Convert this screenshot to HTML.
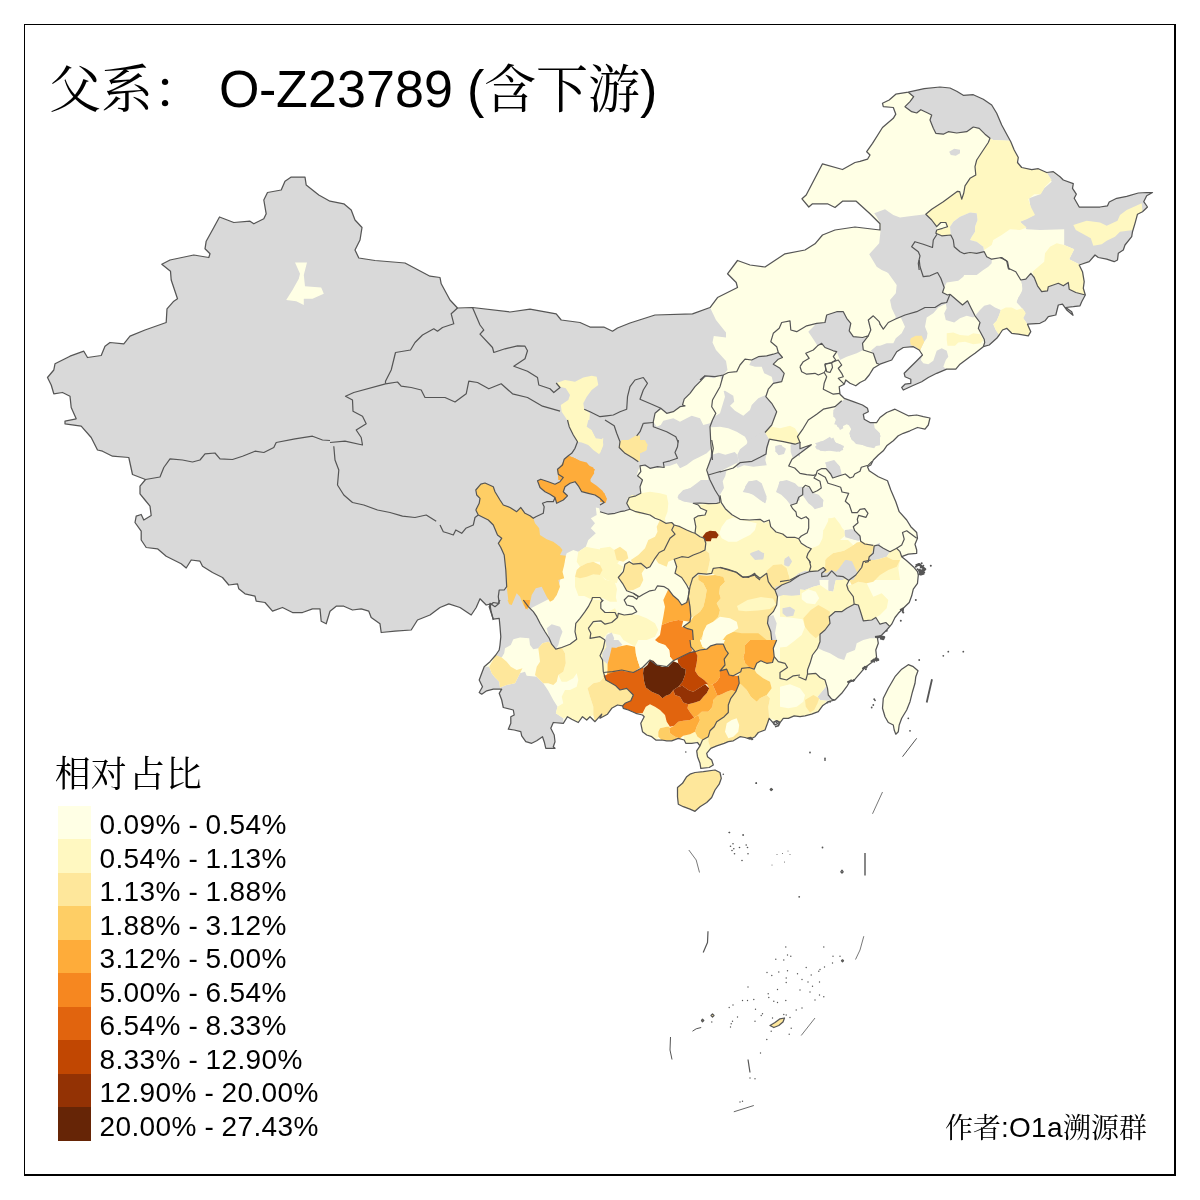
<!DOCTYPE html>
<html lang="zh-CN">
<head>
<meta charset="utf-8">
<title>父系： O-Z23789 (含下游)</title>
<style>
html,body{margin:0;padding:0;background:#fff;}
body{width:1200px;height:1200px;overflow:hidden;position:relative;}
svg{position:absolute;left:0;top:0;display:block;}
text{font-family:"Liberation Sans","Noto Serif CJK SC",serif;fill:#000;}
</style>
</head>
<body>
<svg width="1200" height="1200" viewBox="0 0 1200 1200">
<rect x="0" y="0" width="1200" height="1200" fill="#fff"/>
<g><polygon points="97.5,450 91.2,437.5 81.2,426.2 65,423.8 65,421.2 76.2,418.8 71.2,407.5 70,396.2 62.5,392.5 53.8,393.8 51.2,385 47.5,377.5 53.8,370 55,363.8 70,356.2 83.8,351.2 87.5,357.5 101.2,355.5 105,346.2 110,342.5 123.8,343.8 130,336.2 145,330 166.2,322.5 167,308.8 173.8,301.2 177.5,298.8 171.2,280 170.5,271.2 161.8,264.2 170,260 193.8,255 208.8,257.5 210,253.8 205,248.8 206.2,241.2 213.8,227.5 219.5,217 233.8,222.5 250,221.2 253.8,223.8 263.8,218.8 266.2,213.8 263.8,200 267.5,192.5 281.2,190 285,181.2 291.2,177 305,177 306.2,185 318.8,195 330,201.2 343.8,203.8 351.2,210 355,220 362,227.5 360,240 355,250 358.8,258 375,260.5 405,263 430,276.2 440,277.5 441.2,283.8 450,300 457.5,308 472.5,307.5 510,312 530,309.2 556.2,313.8 561.2,320 580,322.5 590,327 603.8,327 612.5,331.2 617.5,328 630,323 655,315 692.5,313.8 710,307.5 717.5,297.5 737.5,287.5 736.2,282.5 727.5,273.8 737.5,260.5 750,265 765,267 785,253.8 805,250 815,243.8 822.5,235 835,230 855,227 880,230 880,223.8 870,213.8 856.2,201.2 842.5,201.2 835,207.5 827.5,203.8 812.5,203.8 808.8,207 802,198.8 806.2,195 822.5,163.8 842.5,169.5 855,162.5 860,161.3 867.5,159.2 870,155 866.7,151.7 872.5,143.3 882.5,127.5 893.3,118.3 895.8,114.2 893.3,107.5 883.3,106.7 882.5,103.3 889.2,100 895.8,94.2 908.3,92.2 924.2,88.7 940,87 950,88 956.7,91.3 963.3,95.3 973.3,94.7 983.3,99.2 991.7,105 996.7,113.3 1001.7,125 1006.7,134.2 1010.8,141.7 1014.2,150 1018.3,157.5 1017.5,162.5 1021.7,167.5 1031.7,169.7 1038.3,168.7 1046.7,172.5 1053.3,171.7 1060,176.7 1063.3,180 1073.3,183.7 1072.5,188.3 1076.3,194.2 1074.2,198.3 1079.2,207 1090,207 1100,207 1107.5,205.8 1109.2,202 1116.7,198.3 1126.7,196.3 1138.3,193 1146.7,192.5 1152.5,192.5 1146.7,195.8 1143.7,201.7 1147.5,207 1142.5,211.7 1137.5,214.2 1135,223.3 1132.5,231.7 1131.7,236.7 1125,245 1123.3,250 1118.3,253.3 1117.5,260 1114.2,261.7 1106.7,259.2 1098.3,257.5 1095,255 1089.2,261.7 1079.2,265 1082.5,271.7 1084.2,281.7 1083.3,288.3 1085.3,295 1081.7,301.7 1080,305.8 1073.3,306.7 1065.8,307.5 1071.7,311.7 1073,315.3 1066.7,310 1062.5,304.2 1058.3,305 1055.8,315 1048.3,316.7 1045,320.8 1040,323.3 1027.5,324.2 1030.8,331.7 1028.3,335.8 1018.3,334.2 1011.7,333.3 1006.7,328.3 1002.5,330 999.2,335 996.7,338.3 989.2,345 983.3,346.7 975,353.3 970,356.7 960,364.2 955.8,369.2 946.7,369.2 936.7,373.3 928.3,377.5 921.7,381.7 912.5,385.8 903.3,390 901.7,387.5 905,384.2 910.8,383.3 910.8,379.2 905,376.7 904.2,373.3 909.2,368.3 915.8,361.7 922.5,355 919.2,350 913.3,346.7 903.3,347.5 896.7,351.7 891.7,360 880,364.2 873.3,368.3 869.2,375 865,380 860,382.5 855.8,385.8 850,383.3 845.8,380 844.2,384.2 839.2,386.7 840,394.2 844.2,398.3 853.3,401.7 862.5,405 867.5,408.3 868.3,411.7 863.3,414.2 864.2,419.2 870,422.5 876.7,422.5 880,417.5 886.7,412.5 895,409.2 901.7,412.5 908.3,415.8 916.7,415 923.3,416.7 930,418 928.3,425 925,429.2 917.5,427.5 910,430.8 903.3,433.3 898.3,435.8 893.3,440.8 886.7,445.8 883.3,450.8 878.3,455 873.3,460 870.8,465 867.5,466.7 869.2,470.8 878.3,476.7 887.5,480.8 890.8,490 895.8,501.7 899.2,511.7 906.7,520 910.8,526.7 916.7,532.5 917.5,538.3 915,544.2 916.7,550 916.7,553.3 908.3,554.2 901.7,556.7 906.7,560.8 913.3,566.7 917.5,571.7 918.3,575 917.5,583.3 913.3,589.2 911.7,595.8 909.2,602.5 903.3,608.3 898.3,613.3 895,617.5 891.7,624.2 886.7,630 881.7,635 877.5,638.3 878.3,643.3 875.8,650 876.7,658.3 871.7,662.5 865,667.5 860,673.3 855,679.2 849.2,682.5 846.7,686.7 841.7,693.3 835,700 828.3,701.7 822.5,705.8 818.3,711.7 811.7,714.2 805,715.8 800,716.7 794.2,715.8 788.3,718.3 783.3,718.3 780.8,721.7 775,725 769.2,718.3 767.5,723.3 765,730 758.3,732.5 755,736.7 750,739.2 745,737.5 740,736.7 733.3,740.8 728.3,741.7 724.2,743.3 716.7,745.8 710.8,748.3 706.7,753.3 707.5,756.7 711.7,760 713.3,765 709.2,767.5 700.8,768.3 700,763.3 697.5,756.7 696.7,750.8 700,745.8 697.5,742.5 691.7,743.3 685.8,743.3 684.2,740 678.3,738.3 671.7,740.8 666.7,740.8 661.7,740 655.8,740 651.7,736.7 646.7,735 642.5,731.7 640.8,723.3 644.2,716.7 642.5,715 635.8,713.3 628.3,710 623.3,708.3 622.5,705.8 617.5,705 611.7,708.3 607.5,714.2 600,718.3 601.7,714.2 595,721.7 590,716.7 586.7,720 582.5,716.7 578.3,722.5 571.7,719.2 567.5,716.7 563.3,723.3 553.3,722.5 550.8,728.3 554.2,735 555,741.7 553.3,746.7 555,748.3 545.8,748.3 544.2,741.7 542.5,736.7 536.7,740.8 531.7,743.3 525.8,741.7 521.7,735.8 520.8,731.7 514.2,730 508.3,729.2 510.8,723.3 510.8,716.7 514.2,715 513.3,710 503.3,707.5 501.7,700 499.2,693.3 501.7,689.2 493.3,689.2 486.7,690.8 481.7,694.2 479.2,692.5 482.5,686.7 479.2,680 481.7,673.3 484.2,666.7 490,661.7 495.8,655 499.2,650 500,645 500.8,636.7 500,626.7 499.2,618.3 493.3,619.2 490.8,611.7 489.2,606.7 491.2,603.8 486.2,605 480,598.8 476.2,607.5 471.2,615 460,607.5 448.8,603.8 440,607.5 430,615 417.5,620 411.2,630 395,631.2 381.2,632.5 380,623.8 371.2,617.5 368.8,611.2 361.2,608.8 352.5,610 343.8,606.2 336.2,606.2 330,611.2 326.2,623.8 321.2,621.2 320,608.8 312.5,608.8 302.5,612.5 292.5,612.5 282.5,607.5 272.5,611.2 265,602.5 256.2,601.2 255,596.2 245,593.8 238.8,588.8 237.5,583.8 228.8,585 222.5,577.5 212.5,572.5 202.5,566.2 200,561.2 191.2,560 186.2,568 181.2,563.8 166.2,556.2 157.5,548.8 146.2,547.5 141.2,540 141.2,531.2 135,522.5 136.2,516.2 141.2,514.5 143.8,520 151.2,515.5 150,506.2 145,500 140,493.8 140,486.2 145.5,479.5 132.5,474.5 128.8,457.5 112.5,456.2 102.5,451.2" fill="#FFFFE5"/></g>
<defs><clipPath id="cn"><polygon points="97.5,450 91.2,437.5 81.2,426.2 65,423.8 65,421.2 76.2,418.8 71.2,407.5 70,396.2 62.5,392.5 53.8,393.8 51.2,385 47.5,377.5 53.8,370 55,363.8 70,356.2 83.8,351.2 87.5,357.5 101.2,355.5 105,346.2 110,342.5 123.8,343.8 130,336.2 145,330 166.2,322.5 167,308.8 173.8,301.2 177.5,298.8 171.2,280 170.5,271.2 161.8,264.2 170,260 193.8,255 208.8,257.5 210,253.8 205,248.8 206.2,241.2 213.8,227.5 219.5,217 233.8,222.5 250,221.2 253.8,223.8 263.8,218.8 266.2,213.8 263.8,200 267.5,192.5 281.2,190 285,181.2 291.2,177 305,177 306.2,185 318.8,195 330,201.2 343.8,203.8 351.2,210 355,220 362,227.5 360,240 355,250 358.8,258 375,260.5 405,263 430,276.2 440,277.5 441.2,283.8 450,300 457.5,308 472.5,307.5 510,312 530,309.2 556.2,313.8 561.2,320 580,322.5 590,327 603.8,327 612.5,331.2 617.5,328 630,323 655,315 692.5,313.8 710,307.5 717.5,297.5 737.5,287.5 736.2,282.5 727.5,273.8 737.5,260.5 750,265 765,267 785,253.8 805,250 815,243.8 822.5,235 835,230 855,227 880,230 880,223.8 870,213.8 856.2,201.2 842.5,201.2 835,207.5 827.5,203.8 812.5,203.8 808.8,207 802,198.8 806.2,195 822.5,163.8 842.5,169.5 855,162.5 860,161.3 867.5,159.2 870,155 866.7,151.7 872.5,143.3 882.5,127.5 893.3,118.3 895.8,114.2 893.3,107.5 883.3,106.7 882.5,103.3 889.2,100 895.8,94.2 908.3,92.2 924.2,88.7 940,87 950,88 956.7,91.3 963.3,95.3 973.3,94.7 983.3,99.2 991.7,105 996.7,113.3 1001.7,125 1006.7,134.2 1010.8,141.7 1014.2,150 1018.3,157.5 1017.5,162.5 1021.7,167.5 1031.7,169.7 1038.3,168.7 1046.7,172.5 1053.3,171.7 1060,176.7 1063.3,180 1073.3,183.7 1072.5,188.3 1076.3,194.2 1074.2,198.3 1079.2,207 1090,207 1100,207 1107.5,205.8 1109.2,202 1116.7,198.3 1126.7,196.3 1138.3,193 1146.7,192.5 1152.5,192.5 1146.7,195.8 1143.7,201.7 1147.5,207 1142.5,211.7 1137.5,214.2 1135,223.3 1132.5,231.7 1131.7,236.7 1125,245 1123.3,250 1118.3,253.3 1117.5,260 1114.2,261.7 1106.7,259.2 1098.3,257.5 1095,255 1089.2,261.7 1079.2,265 1082.5,271.7 1084.2,281.7 1083.3,288.3 1085.3,295 1081.7,301.7 1080,305.8 1073.3,306.7 1065.8,307.5 1071.7,311.7 1073,315.3 1066.7,310 1062.5,304.2 1058.3,305 1055.8,315 1048.3,316.7 1045,320.8 1040,323.3 1027.5,324.2 1030.8,331.7 1028.3,335.8 1018.3,334.2 1011.7,333.3 1006.7,328.3 1002.5,330 999.2,335 996.7,338.3 989.2,345 983.3,346.7 975,353.3 970,356.7 960,364.2 955.8,369.2 946.7,369.2 936.7,373.3 928.3,377.5 921.7,381.7 912.5,385.8 903.3,390 901.7,387.5 905,384.2 910.8,383.3 910.8,379.2 905,376.7 904.2,373.3 909.2,368.3 915.8,361.7 922.5,355 919.2,350 913.3,346.7 903.3,347.5 896.7,351.7 891.7,360 880,364.2 873.3,368.3 869.2,375 865,380 860,382.5 855.8,385.8 850,383.3 845.8,380 844.2,384.2 839.2,386.7 840,394.2 844.2,398.3 853.3,401.7 862.5,405 867.5,408.3 868.3,411.7 863.3,414.2 864.2,419.2 870,422.5 876.7,422.5 880,417.5 886.7,412.5 895,409.2 901.7,412.5 908.3,415.8 916.7,415 923.3,416.7 930,418 928.3,425 925,429.2 917.5,427.5 910,430.8 903.3,433.3 898.3,435.8 893.3,440.8 886.7,445.8 883.3,450.8 878.3,455 873.3,460 870.8,465 867.5,466.7 869.2,470.8 878.3,476.7 887.5,480.8 890.8,490 895.8,501.7 899.2,511.7 906.7,520 910.8,526.7 916.7,532.5 917.5,538.3 915,544.2 916.7,550 916.7,553.3 908.3,554.2 901.7,556.7 906.7,560.8 913.3,566.7 917.5,571.7 918.3,575 917.5,583.3 913.3,589.2 911.7,595.8 909.2,602.5 903.3,608.3 898.3,613.3 895,617.5 891.7,624.2 886.7,630 881.7,635 877.5,638.3 878.3,643.3 875.8,650 876.7,658.3 871.7,662.5 865,667.5 860,673.3 855,679.2 849.2,682.5 846.7,686.7 841.7,693.3 835,700 828.3,701.7 822.5,705.8 818.3,711.7 811.7,714.2 805,715.8 800,716.7 794.2,715.8 788.3,718.3 783.3,718.3 780.8,721.7 775,725 769.2,718.3 767.5,723.3 765,730 758.3,732.5 755,736.7 750,739.2 745,737.5 740,736.7 733.3,740.8 728.3,741.7 724.2,743.3 716.7,745.8 710.8,748.3 706.7,753.3 707.5,756.7 711.7,760 713.3,765 709.2,767.5 700.8,768.3 700,763.3 697.5,756.7 696.7,750.8 700,745.8 697.5,742.5 691.7,743.3 685.8,743.3 684.2,740 678.3,738.3 671.7,740.8 666.7,740.8 661.7,740 655.8,740 651.7,736.7 646.7,735 642.5,731.7 640.8,723.3 644.2,716.7 642.5,715 635.8,713.3 628.3,710 623.3,708.3 622.5,705.8 617.5,705 611.7,708.3 607.5,714.2 600,718.3 601.7,714.2 595,721.7 590,716.7 586.7,720 582.5,716.7 578.3,722.5 571.7,719.2 567.5,716.7 563.3,723.3 553.3,722.5 550.8,728.3 554.2,735 555,741.7 553.3,746.7 555,748.3 545.8,748.3 544.2,741.7 542.5,736.7 536.7,740.8 531.7,743.3 525.8,741.7 521.7,735.8 520.8,731.7 514.2,730 508.3,729.2 510.8,723.3 510.8,716.7 514.2,715 513.3,710 503.3,707.5 501.7,700 499.2,693.3 501.7,689.2 493.3,689.2 486.7,690.8 481.7,694.2 479.2,692.5 482.5,686.7 479.2,680 481.7,673.3 484.2,666.7 490,661.7 495.8,655 499.2,650 500,645 500.8,636.7 500,626.7 499.2,618.3 493.3,619.2 490.8,611.7 489.2,606.7 491.2,603.8 486.2,605 480,598.8 476.2,607.5 471.2,615 460,607.5 448.8,603.8 440,607.5 430,615 417.5,620 411.2,630 395,631.2 381.2,632.5 380,623.8 371.2,617.5 368.8,611.2 361.2,608.8 352.5,610 343.8,606.2 336.2,606.2 330,611.2 326.2,623.8 321.2,621.2 320,608.8 312.5,608.8 302.5,612.5 292.5,612.5 282.5,607.5 272.5,611.2 265,602.5 256.2,601.2 255,596.2 245,593.8 238.8,588.8 237.5,583.8 228.8,585 222.5,577.5 212.5,572.5 202.5,566.2 200,561.2 191.2,560 186.2,568 181.2,563.8 166.2,556.2 157.5,548.8 146.2,547.5 141.2,540 141.2,531.2 135,522.5 136.2,516.2 141.2,514.5 143.8,520 151.2,515.5 150,506.2 145,500 140,493.8 140,486.2 145.5,479.5 132.5,474.5 128.8,457.5 112.5,456.2 102.5,451.2"/></clipPath></defs>
<g clip-path="url(#cn)"><polygon points="491.2,603.8 486.2,605 480,598.8 476.2,607.5 471.2,615 460,607.5 448.8,603.8 440,607.5 430,615 417.5,620 411.2,630 395,631.2 381.2,632.5 380,623.8 371.2,617.5 368.8,611.2 361.2,608.8 352.5,610 343.8,606.2 336.2,606.2 330,611.2 326.2,623.8 321.2,621.2 320,608.8 312.5,608.8 302.5,612.5 292.5,612.5 282.5,607.5 272.5,611.2 265,602.5 256.2,601.2 255,596.2 245,593.8 238.8,588.8 237.5,583.8 228.8,585 222.5,577.5 212.5,572.5 202.5,566.2 200,561.2 191.2,560 186.2,568 181.2,563.8 166.2,556.2 157.5,548.8 146.2,547.5 141.2,540 141.2,531.2 135,522.5 136.2,516.2 141.2,514.5 143.8,520 151.2,515.5 150,506.2 145,500 140,493.8 140,486.2 145.5,479.5 132.5,474.5 128.8,457.5 112.5,456.2 102.5,451.2 97.5,450 91.2,437.5 81.2,426.2 65,423.8 65,421.2 76.2,418.8 71.2,407.5 70,396.2 62.5,392.5 53.8,393.8 51.2,385 47.5,377.5 53.8,370 55,363.8 70,356.2 83.8,351.2 87.5,357.5 101.2,355.5 105,346.2 110,342.5 123.8,343.8 130,336.2 145,330 166.2,322.5 167,308.8 173.8,301.2 177.5,298.8 171.2,280 170.5,271.2 161.8,264.2 170,260 193.8,255 208.8,257.5 210,253.8 205,248.8 206.2,241.2 213.8,227.5 219.5,217 233.8,222.5 250,221.2 253.8,223.8 263.8,218.8 266.2,213.8 263.8,200 267.5,192.5 281.2,190 285,181.2 291.2,177 305,177 306.2,185 318.8,195 330,201.2 343.8,203.8 351.2,210 355,220 362,227.5 360,240 355,250 358.8,258 375,260.5 405,263 430,276.2 440,277.5 441.2,283.8 450,300 457.5,308 472.5,307.5 510,312 530,309.2 556.2,313.8 561.2,320 580,322.5 590,327 603.8,327 612.5,331.2 617.5,328 630,323 655,315 692.5,313.8 710,307.5 716,320 726,332.5 726,337.5 713.8,336 712.5,342.5 716,350 726,361 727.5,370 723.3,375 720,386.7 712.5,400 711.7,406.7 715.8,413.3 712.5,420 710,426.7 710.8,443.3 712.5,460 712,468 640,468 640,480 600,480 600,512 599.2,508.3 595.8,507.5 596.7,515 590.8,518.3 595,523.3 590.8,528.3 595.8,533.3 588.3,540 585.8,546.7 578.3,551.7 573.3,550 566.7,553.3 565.8,555.8 556.7,595 527.5,610 523.3,600 528.3,606.7 513.3,639.2 500,645" fill="#D9D9D9"/>
<polygon points="908.3,92.2 924.2,88.7 940,87 950,88 956.7,91.3 963.3,95.3 973.3,94.7 983.3,99.2 991.7,105 996.7,113.3 1001.7,125 1006.7,134.2 1010,140.8 993.3,140 990,138.3 985,134.2 979.2,128.3 973.3,127 966.7,131.7 956.7,133 948.3,131.7 943.3,134.2 935.8,133.3 933.3,128.3 930,120 931.7,115 926.7,112.5 920.8,109.7 916.7,113 911.7,111.7 905,106.7 910,101.7 913.7,96.7" fill="#D9D9D9"/>
<polygon points="949.2,151.7 954.2,148.7 960,149.7 960,153.3 955.8,155.8 950.8,155" fill="#D9D9D9"/>
<polygon points="1046.7,173 1051.7,181.7 1044.2,188.3 1040,194.2 1029.2,198.3 1030.8,210 1034.2,215 1020,221.7 1026.7,229.2 1040,230 1064.2,229.2 1064.2,245 1074.2,249.2 1069.2,259.2 1079.2,264.2 1089.2,261.7 1095,255 1098.3,257.5 1106.7,259.2 1114.2,261.7 1117.5,260 1118.3,253.3 1123.3,250 1125,245 1131.7,236.7 1132.5,231.7 1135,223.3 1137.5,214.2 1142.5,211.7 1147.5,207 1143.7,201.7 1146.7,195.8 1152.5,192.5 1146.7,192.5 1138.3,193 1126.7,196.3 1116.7,198.3 1109.2,202 1107.5,205.8 1100,207 1090,207 1079.2,207 1074.2,198.3 1076.3,194.2 1072.5,188.3 1073.3,183.7 1063.3,180 1057.5,175.8 1051.7,172" fill="#D9D9D9"/>
<polygon points="1020.8,280 1025.8,279.2 1030.8,273.3 1034.2,277.5 1037.5,285.8 1041.7,291.7 1047.5,290.8 1048.3,286.7 1058.3,283.3 1063.3,285.8 1068.3,282.5 1069.2,289.2 1075.8,292.5 1085.3,295 1081.7,301.7 1080,305.8 1073.3,306.7 1065.8,307.5 1071.7,311.7 1073,315.3 1066.7,310 1062.5,304.2 1058.3,305 1055.8,315 1048.3,316.7 1045,320.8 1040,323.3 1027.5,324.2 1022.5,316.7 1025,311.7 1020.8,306.7 1016.7,301.7 1020,295 1023.3,288.3 1021.7,283.3" fill="#D9D9D9"/>
<polygon points="876.7,260 990,260 989.2,265 980,265.8 966.7,270 963.3,276.7 958.3,280.8 946.7,282.5 944.2,287.5 942.5,292.5 947.5,295 950,294.2 955.8,299.2 962.5,305 967.5,300.8 970.8,307.5 975,315.8 980,322.5 978.3,328.3 984.2,339.2 984.7,342.5 983.3,346.7 975,353.3 970,356.7 960,364.2 955.8,369.2 946.7,369.2 936.7,373.3 928.3,377.5 921.7,381.7 912.5,385.8 903.3,390 901.7,387.5 905,384.2 910.8,383.3 910.8,379.2 905,376.7 904.2,373.3 909.2,368.3 915.8,361.7 922.5,355 919.2,350 913.3,346.7 903.3,347.5 896.7,351.7 891.7,360 880,364.2 876.7,363.3 873.3,353.3 870.8,350.8 876.7,345.8 880,345.8 886.7,343.3 893.3,343.3 895.8,338.3 901.7,333.3 905,326.7 900.8,317.5 895,319.2 895.8,316.7 891.7,308.3 890,300 895.8,293.3 896.7,285 888.3,273.3 880,265" fill="#D9D9D9"/>
<polygon points="975,315.8 980,310 984.2,305.8 990,304.2 995,307.5 1000.8,310 999.2,315 996.7,320.8 993.3,324.2 995.8,330 999.2,335 996.7,338.3 989.2,345 983.3,346.7 984.7,342.5 984.2,339.2 978.3,328.3 980,322.5" fill="#D9D9D9"/>
<polygon points="1022.5,308.3 1016.7,302.5 1018.3,297.5 1022.5,291.7 1021.7,280.8 1026.7,278.3 1030.8,273.3 1035.8,281.7 1040.8,291.7 1046.7,290.8 1048.3,286.7 1059.2,284.2 1060.8,282.5 1068.3,283.3 1070,289.2 1078.3,292.5 1080,292.5 1080,305 1073.3,315 1066.7,308.3 1063.3,304.2 1059.2,304.7 1055.8,314.2 1050,315 1042.5,321.7 1027.5,324.2 1023.3,318.3 1025.8,313.3" fill="#D9D9D9"/>
<polygon points="751.7,360 758.3,356.7 766.7,355.8 773.3,354.2 778.3,352.5 782.5,357.5 778.3,359.2 773.3,364.2 780,368.3 784.2,373.3 781.7,381.7 773.3,383.3 771.7,376.7 764.2,373.3 761.7,366.7 755,366.7 749.2,365" fill="#D9D9D9"/>
<polygon points="712.5,400 720,391.7 725,390.8 733.3,395.8 734.2,401.7 730,405.8 735,410.8 743.3,415.8 750,410 751.7,405 758.3,398.3 765.8,395 765.8,396.7 771.7,403.3 776.7,411.7 771.7,425 765,432.5 770,440 767.5,448.3 766.7,455 756.7,460 740,460 748.3,443.3 745,436.7 736.7,431.7 728.3,428.3 720,426.7 710,427.5 712.5,420 715.8,413.3 711.7,406.7" fill="#D9D9D9"/>
<polygon points="808.3,331.7 816.7,323.3 825,322.5 826.7,315 836.7,311.7 843.3,311.7 846.7,318.3 850.8,323.3 849.2,330.8 853.3,336.7 862.5,337.5 866.7,338.3 862.5,343.3 863.3,350 856.7,353.3 846.7,356.7 840,360 836.7,351.7 833.3,350.8 825,347.5 821.7,343.3 817.5,345.8 815,341.7 811.7,336.7" fill="#D9D9D9"/>
<polygon points="841.7,400.8 846.7,401.7 856.7,402.5 862.5,403.3 866.7,408.3 868.3,411.7 863.3,415 865,420 871.7,422.5 873.3,426.7 876.7,433.3 873.3,440 866.7,443.3 858.3,443.3 851.7,440 849.2,433.3 852.5,426.7 846.7,424.2 841.7,426.7 838.3,420 833.3,416.7 833.3,410 838.3,405" fill="#D9D9D9"/>
<polygon points="815,443.3 823.3,440.8 830,436.7 833.3,441.7 841.7,445 843.3,450 836.7,451.7 825,450 820,448.3" fill="#D9D9D9"/>
<polygon points="844.2,399.2 853.3,401.7 862.5,405 867.5,408.3 868.3,411.7 863.3,414.2 864.2,419.2 870,422.5 873.3,424.2 874.2,431.7 880.8,435.8 877.5,443.3 874.2,448.3 866.7,446.7 856.7,442.5 850,436.7 851.7,430 848.3,424.2 842.5,422.5 843.3,428.3 840,430 837.5,425 834.2,424.2 835.8,420 833.3,413.3 837.5,405" fill="#D9D9D9"/>
<polygon points="815,446.7 820,441.7 829.2,440 833.3,437.5 835.8,443.3 844.2,446.7 840,451.7 831.7,450 823.3,450.8 816.7,449.2" fill="#D9D9D9"/>
<polygon points="800,449.2 810.8,444.2 811.7,445.8 800.8,452.5" fill="#D9D9D9"/>
<polygon points="825,462.5 834.2,460 840,466.7 841.7,475 837.5,476.7 831.7,477.5 828.3,470.8" fill="#D9D9D9"/>
<polygon points="803.3,486.7 807.5,488.3 811.7,494.2 818.3,495 823.3,500 822.5,506.7 815,508.3 808.3,503.3 802.5,495" fill="#D9D9D9"/>
<polygon points="845,530 851.7,529.2 855.8,532.5 860.8,536.7 860.8,540.8 855,540 848.3,537.5 844.2,535" fill="#D9D9D9"/>
<polygon points="874.2,545.8 878.3,545 883.3,548.3 890,551.7 886.7,556.7 878.3,559.2 870,560.8 868.3,561.7 869.2,556.7 873.3,553.3" fill="#D9D9D9"/>
<polygon points="833.3,568.3 841.7,563.3 847.5,558.3 851.7,561.7 855,568.3 861.7,568.3 855,573.3 850,580 821.7,580 825,573.3" fill="#D9D9D9"/>
<polygon points="800,574.2 810,574.2 821.7,570 825,568.3 827.5,573.3 821.7,576.7 820,580 800,580" fill="#D9D9D9"/>
<polygon points="854.2,604.2 858.3,605 860,610 863.3,620.8 871.7,620 875.8,617.5 880,624.2 885.8,622.5 890,626.7 886.7,630 881.7,635 877.5,638.3 870,638.3 863.3,640 856.7,643.3 855,650 846.7,653.3 844.2,660 838.3,658.3 830,653.3 823.3,650.8 818.3,648.3 820,641.7 820,634.2 825,630 830,623.3 829.2,616.7 835,611.7 841.7,611.7 846.7,608.3" fill="#D9D9D9"/>
<polygon points="780,582.5 790,580 798.3,575.8 809.2,571.7 818.3,570.8 823.3,567.5 825.8,570 821.7,573.3 819.2,578.3 820,585 813.3,586.7 805,590 796.7,589.2 788.3,593.3 780,592.5" fill="#D9D9D9"/>
<polygon points="831.7,572.5 836.7,576.7 835,583.3 833.3,591.7 828.3,590.8 828.3,581.7 829.2,576.7" fill="#D9D9D9"/>
<polygon points="835,568.3 843.3,563.3 850,560 870.8,560 863.3,561.7 861.7,567.5 855.8,575 849.2,580 843.3,576.7 836.7,575.8 831.7,570.8" fill="#D9D9D9"/>
<polygon points="783.3,610 788.3,607.5 795,609.2 796.7,613.3 790,616.7 784.2,615.8" fill="#D9D9D9"/>
<polygon points="824.2,601.7 830,597.5 833.3,601.7 835,608.3 830,610 825,606.7" fill="#D9D9D9"/>
<polygon points="817.5,696.7 821.7,691.7 825.8,686.7 827.5,688.3 828.3,695 831.7,699.2 826.7,700.8 820,700" fill="#D9D9D9"/>
<polygon points="605,640 618.3,640 622.5,645 618.3,646.7 611.7,650 610,656.7 608.3,663.3 602.5,660 600,655.8 603.3,648.3" fill="#D9D9D9"/>
<polygon points="773.3,721.7 776.7,720 780.8,721.7 779.2,725.8 775,727.5 773,725" fill="#D9D9D9"/>
<polygon points="600,440 678.3,440 677.5,446.7 675,452.5 677.5,458.3 670,460.8 663.3,462.5 664.2,467.5 657.5,466.7 650,468.3 645,465 640,465.8 640.8,471.7 637.5,475.8 642.5,480 640,486.7 640.8,493.3 635.8,495.8 629.2,497.5 626.7,503.3 630,509.2 625,510.8 620,511.7 615,513.3 608.3,514.2 600,511.7" fill="#D9D9D9"/>
<polygon points="678.3,440 711.7,440 710.8,448.3 705,451.7 700,456.7 693.3,461.7 688.3,467.5 681.7,469.2 680,463.3 677.5,458.3 675,452.5 677.5,446.7" fill="#D9D9D9"/>
<polygon points="678.3,495 683.3,490 690,488.3 696.7,483.3 703.3,478.3 708.3,480 712.5,485 715,490 719.2,496.7 720,502.5 716.7,503.3 708.3,503.7 700,503 693.3,503.3 685,501.7 678.3,499.2" fill="#D9D9D9"/>
<polygon points="748.3,481.7 756.7,480 761.7,483.3 764.2,490 766.7,496.7 765,503.3 760,500 753.3,495 746.7,491.7 745,486.7" fill="#D9D9D9"/>
<polygon points="779.2,481.7 786.7,480 795,483.3 800,488.3 800,500 793.3,504.2 788.3,498.3 781.7,493.3 778.3,488.3" fill="#D9D9D9"/>
<polygon points="775,446.7 781.7,445 783.3,451.7 778.3,455" fill="#D9D9D9"/>
<polygon points="791.7,440 800,440 800,456.7 793.3,453.3 790.8,446.7" fill="#D9D9D9"/>
<polygon points="420,600 478.3,600 475,605 475,611.7 470,614.2 458.3,605.8 448.3,603.3 438.3,609.2 428.3,615 420,617.5" fill="#D9D9D9"/>
<polygon points="481.7,600 523.3,600 528.3,606.7 533.3,611.7 536.7,616.7 540,623.3 545,631.7 549.2,638.3 551.7,644.2 548.3,641.7 542.5,643.3 538.3,648.3 533.3,649.2 530,645 529.2,638.3 520,637.5 513.3,639.2 510.8,645 505,648.3 504.2,653.3 501.7,657.5 493.3,655 496.7,650 497.5,645 498.3,636.7 497.5,626.7 496.7,620 490.8,620.8 488.3,611.7 486.7,606.7 480.8,602.5" fill="#D9D9D9"/>
<polygon points="546.7,628.3 551.7,624.2 560,626.7 562.5,631.7 560,638.3 558.3,645 555.8,649.2 551.7,644.2 549.2,638.3" fill="#D9D9D9"/>
<polygon points="484.2,666.7 489.2,666.7 491.7,673.3 495,677.5 499.2,681.7 500,687.5 501.7,689.2 493.3,689.2 486.7,690.8 481.7,694.2 479.2,692.5 482.5,686.7 479.2,680 481.7,673.3" fill="#D9D9D9"/>
<polygon points="500,687.5 506.7,685 515,683.3 520,673.3 525,671.7 526.7,675.8 536.7,676.7 543.3,683.3 548.3,690.8 553.3,700 557.5,706.7 555.8,713.3 563.3,718.3 563.3,723.3 553.3,722.5 550.8,728.3 554.2,735 555,741.7 553.3,746.7 555,748.3 545.8,748.3 544.2,741.7 542.5,736.7 536.7,740.8 531.7,743.3 525.8,741.7 521.7,735.8 520.8,731.7 514.2,730 508.3,729.2 510.8,723.3 510.8,716.7 514.2,715 513.3,710 503.3,707.5 501.7,700 499.2,693.3 501.7,689.2" fill="#D9D9D9"/>
<polygon points="874.2,213.3 885,209.2 893.3,215 900,217.5 913.3,215.8 925.8,214.2 931.7,220 936.7,226.7 935.8,233.3 941.7,235.8 950.8,235 953.3,240 954.2,246.7 960,251.7 964.2,253.7 976.7,253.3 984.2,251.7 986.7,256.7 991.7,259.2 991.7,263.3 988.3,266.7 983.3,270 976.7,275 893.3,275 881.7,270 876.7,266.7 869.2,254.2 879.2,243.3 880.8,228.3 880.8,224.2 876.7,216.7" fill="#D9D9D9"/>
<polygon points="775.3,446 780,444.7 786,448.7 784,454 778.7,455.3 775.3,451.3" fill="#D9D9D9"/>
<polygon points="790.7,444.7 798.7,444 800,448.7 797.3,455.3 792.7,458 790.7,452" fill="#D9D9D9"/>
<polygon points="800,448.7 805.3,446.7 811.3,444.7 802.7,451.3" fill="#D9D9D9"/>
<polygon points="817.3,446.7 822.7,441.3 830.7,438 836,442.7 844,446 840,451.3 832,450 825.3,451.3 820,450.7" fill="#D9D9D9"/>
<polygon points="850,432 853.3,425.3 858.7,420 873.3,420 874.7,428 880,433.3 880,445.3 872,446.7 864,445.3 856,444 851.3,438.7" fill="#D9D9D9"/>
<polygon points="835.3,421.3 840,420 843.3,424 841.3,428.7 837.3,426.7" fill="#D9D9D9"/>
<polygon points="826,463.3 833.3,460.7 838.7,465.3 841.3,472 838.7,476 832.7,478 830.7,474 826.7,469.3" fill="#D9D9D9"/>
<polygon points="742.7,492 748.7,481.3 756,480.7 761.3,486.7 763.3,494.7 766.7,498.7 765.3,503.3 761.3,500 757.3,494.7 749.3,493.3" fill="#D9D9D9"/>
<polygon points="776,492 780,481.3 789.3,481.3 794.7,486.7 802,486.7 802,494.7 798.7,497.3 796.7,503.3 790.7,505.3 786.7,500 781.3,494.7" fill="#D9D9D9"/>
<polygon points="803.3,488 809.3,486.7 812.7,492.7 818.7,494.7 823.3,500 822.7,506.7 814.7,509.3 810.7,504 806.7,500 804,494.7" fill="#D9D9D9"/>
<polygon points="712,454.7 718.7,452.7 725.3,454.7 734.7,452 737.3,454.7 738.7,461.3 737.3,462.7 721.3,470.7 708,474.7 706.7,472 708.7,465.3 712,458.7" fill="#D9D9D9"/>
<polygon points="677.3,497.3 682.7,490.7 694.7,486.7 702.7,478.7 708,474.7 721.3,470.7 726.7,469.3 725.3,476 722.7,481.3 724,488 720,494.7 719.3,502 694.7,502.7 682.7,501.3" fill="#D9D9D9"/>
<polygon points="737.3,462.7 753.3,458.7 766.7,452 765.3,460 766.7,465.3 753.3,466.7 744,465.3 737.3,468 736,465.3" fill="#D9D9D9"/>
<polygon points="737.3,454.7 740,449.3 746.7,444 748,440 765.3,430.7 768,438.7 769.3,438.7 766.7,452 753.3,458.7 737.3,462.7 738.7,461.3" fill="#D9D9D9"/>
<polygon points="945.8,303.7 938.3,307.5 933.3,313.3 926.7,317.5 925,326.7 927.5,333.3 926.7,338.3 924.2,341.7 921.7,346.7 920,350.8 922.5,355 920.8,360 923.3,363.3 928.3,364.2 933.3,360.8 935,355.8 936.7,350.8 941.7,348.3 946.7,350.8 948.3,356.7 945.8,360 943.3,366.7 946.7,369.2 955.8,369.2 960,364.2 970,356.7 975,353.3 983.3,346.7 984.7,342.5 984.2,339.2 978.3,328.3 980,322.5 975,315.8 973.3,317.5 966.7,315.8 960,318.3 954.2,322.5 945.8,320 944.2,313.3 946.7,308.3" fill="#FFFFE5"/>
<polygon points="295,262.5 307,262.5 303.8,275 305,286.2 321.2,287.5 323.8,293.8 312.5,298.8 303.8,298.8 303.8,305 296.2,301.2 286.2,300 292.5,290 298.8,278.8 300,273.8" fill="#FFFFE5"/>
<polygon points="720,375 713.3,378.3 706.7,376.7 700.8,380.8 695,386.7 690,393.3 684.2,399.2 682.5,405 680,406.7 673.3,411.7 666.7,413.3 661.7,409.2 655,413.3 653.3,421.7 656.7,426.7 660.8,425 663.3,420.8 673.3,418.3 680,421.7 686.7,418.3 691.7,415.8 700,418.3 703.3,425 710,423.3 714.2,416.7 720,413.3 725,396.7" fill="#FFFFE5"/>
<polygon points="640,465.8 646.7,466.7 653.3,469.2 661.7,466.7 670,465.8 676.7,463.3 680,468.3 686.7,465 693.3,460 700,456.7 706.7,453.3 710,450 711.7,446.7 709.2,461.7 707.5,473.3 708.3,480 640,480 636.7,475" fill="#FFFFE5"/>
<polygon points="710.8,427.5 720,427.5 720,446.7 711.7,446.7 710,438.3" fill="#FFFFE5"/>
<polygon points="990,138.3 993.3,140 1010,140.8 1014.2,150 1018.3,157.5 1017.5,162.5 1021.7,167.5 1031.7,169.7 1038.3,168.7 1046.7,172.5 1051.7,180 1045,186.7 1040.8,194.2 1034.2,194.2 1028.3,199.2 1030.8,206.7 1035,215 1026.7,219.2 1020,221.7 1026.7,227.5 1020,230 1010,229.2 1001.7,235 993.3,240 991.7,245 984.2,250 983.3,246.7 976.7,241.7 970,240 971.7,236.7 975,231.7 975,226.7 977.5,220 976.7,213.3 970,212.5 960,216.7 953.3,221.7 950,226.7 950.8,235 941.7,235.8 935.8,233.3 936.7,230 942.5,228.3 947.5,226.7 945.8,222.5 940.8,222.5 936.7,226.7 931.7,220 925.8,214.2 931.7,209.2 943.3,201.7 957.5,191.3 959.7,191.7 961.7,199.2 963.7,193.3 965,185.8 970,178.3 975.8,175 975,166.7 976.7,160 983.3,150 988.3,142.5" fill="#FFF8C1"/>
<polygon points="1073.3,225 1086.7,220.8 1100,222.5 1106.7,225.8 1117.5,220.8 1120,215 1126.7,210 1141.7,203.3 1142.5,211.7 1137.5,214.2 1135,223.3 1133.3,230 1120,231.7 1115,236.7 1106.7,240.8 1101.7,244.2 1093.3,245.8 1090.8,238.3 1081.7,233.3 1075.8,230" fill="#FFF8C1"/>
<polygon points="1064.2,245 1074.2,249.2 1069.2,259.2 1079.2,264.2 1082.5,271.7 1084.2,281.7 1083.3,288.3 1085.3,295 1075.8,292.5 1069.2,289.2 1068.3,282.5 1063.3,285.8 1058.3,283.3 1048.3,286.7 1047.5,290.8 1041.7,291.7 1037.5,285.8 1034.2,277.5 1032.5,271.7 1038.3,266.7 1044.2,261.7 1045,253.3 1050,246.7 1056.7,243.3" fill="#FFF8C1"/>
<polygon points="946.7,333.3 953.3,332.5 960,335 968.3,335.8 973.3,333.3 980,334.2 983.3,340 980.8,343.3 973.3,344.2 965,341.7 958.3,342.5 955,345.8 947.5,345.8 946.7,340" fill="#FFF8C1"/>
<polygon points="1000.8,310 1005.8,307.5 1011.7,307.5 1016.7,310 1022.5,308.3 1025.8,313.3 1023.3,318.3 1027.5,324.2 1030.8,331.7 1028.3,335.8 1018.3,334.2 1011.7,333.3 1006.7,328.3 1002.5,330 999.2,335 995.8,330 993.3,324.2 996.7,320.8 999.2,315" fill="#FFF8C1"/>
<polygon points="765,432.5 771.7,426.7 780,428.3 790,425.8 795,428.3 800,436.7 800,442.5 795,444.2 783.3,441.7 769.2,439.2" fill="#FFF8C1"/>
<polygon points="828.3,518.3 835,518.3 838.3,525 844.2,530 845,535.8 840,540 835,546.7 825,548.3 818.3,546.7 822.5,538.3 823.3,530 828.3,526.7" fill="#FFF8C1"/>
<polygon points="810,548.3 818.3,546.7 825,548.3 835,546.7 833.3,553.3 826.7,558.3 825,568.3 812.5,571.7 810,565 806.7,555 811.7,550" fill="#FFF8C1"/>
<polygon points="890,551.7 896.7,548.3 900,551.7 901.7,556.7 900,560.8 898.3,568.3 900,580 875,580 878.3,575 883.3,568.3 890,565 893.3,560 886.7,556.7" fill="#FFF8C1"/>
<polygon points="846.7,585 851.7,585 858.3,581.7 866.7,583.3 870,590 873.3,596.7 881.7,593.3 888.3,600 886.7,608.3 880,615 875.8,617.5 871.7,620 863.3,620.8 860,610 858.3,605 854.2,604.2 853.3,596.7 848.3,590" fill="#FFF8C1"/>
<polygon points="780,592.5 788.3,593.3 796.7,589.2 805,590 813.3,586.7 820,585 828.3,590.8 833.3,591.7 835,583.3 836.7,576.7 843.3,576.7 849.2,580.8 846.7,585 848.3,590 853.3,596.7 854.2,604.2 846.7,608.3 841.7,611.7 835,611.7 829.2,616.7 830,623.3 825,630 820,634.2 820,641.7 817.5,648.3 812.5,655 810,663.3 807.5,670 807.5,674.2 805.8,680 798.3,676.7 790,677.5 780,680" fill="#FFF8C1"/>
<polygon points="780,680 790,677.5 798.3,676.7 805.8,680 807.5,674.2 815.8,673.3 820,677.5 825,680 825.8,686.7 821.7,691.7 817.5,696.7 820,700 826.7,700.8 822.5,705.8 818.3,711.7 811.7,714.2 805,715.8 796.7,716.7 790,719.2 785,720 780,724.2" fill="#FFF8C1"/>
<polygon points="642.5,713.3 645.8,706.7 650,704.2 655,706.7 660,710 665,715 666.7,721.7 670,726.7 666.7,726.7 660,728.3 658.3,731.7 658.3,736.7 655.8,740 651.7,736.7 646.7,735 642.5,731.7 640.8,723.3 644.2,716.7" fill="#FFF8C1"/>
<polygon points="685.8,743.3 683.3,735.8 690,734.2 695,731.7 697.5,736.7 702.5,740 708.3,736.7 708.3,741.7 710.8,748.3 706.7,753.3 707.5,756.7 711.7,760 713.3,765 709.2,767.5 700.8,768.3 700,763.3 697.5,756.7 696.7,750.8 700,745.8 697.5,742.5 691.7,743.3" fill="#FFF8C1"/>
<polygon points="756.7,663.3 760.8,660.8 766.7,663.3 772.5,662.5 774.2,656.7 778.3,661.7 785,663.3 787.5,667.5 780,672.5 780,678.3 786.7,680 793.3,675.8 800,675 800,716.7 794.2,715.8 788.3,718.3 783.3,718.3 780.8,721.7 769.2,718.3 768.3,706.7 770,698.3 766.7,695 771.7,688.3 770,681.7 763.3,678.3 756.7,673.3 754.2,669.2" fill="#FFF8C1"/>
<polygon points="695,533.3 695.8,526.7 694.2,518.3 698.3,515.8 705,515 706.7,510.8 700.8,508.3 698.3,505 708.3,503.7 720,502.5 724.2,508.3 729.2,513.3 733.3,516.7 741.7,519.2 750,520.8 760,520 764.2,523.3 769.2,520.8 770.8,526.7 775,531.7 783.3,533.3 786.7,538.3 795,537.5 800,540.8 800,575 795,578.3 790,581.7 781.7,585 775,590 771.7,586.7 768.3,581.7 766.7,573.3 760,578.3 755.8,575 751.7,575.8 743.3,577.5 736.7,572.5 728.3,570 720,567.5 713.3,568.3 711.7,573.3 706.7,574.2 708.3,568.3 710,560 709.2,553.3 705,550 705.8,543.3 704.2,538.3 700,536.7" fill="#FFF8C1"/>
<polygon points="629.2,497.5 635.8,495.8 640.8,493.3 650,491.7 660,493.3 666.7,495 668.3,503.3 667.5,511.7 665,518.3 665.8,523.3 660,520 655,518.3 650,515 643.3,513.3 635.8,511.7 630,509.2 626.7,503.3" fill="#FFF8C1"/>
<polygon points="600,548.3 610,546.7 616.7,551.7 620,560 615,566.7 606.7,570 600,571.7" fill="#FFF8C1"/>
<polygon points="600,613.3 606.7,612.5 615,608.3 617.5,613.3 615.8,621.7 608.3,624.2 602.5,620.8 600,621.7" fill="#FFF8C1"/>
<polygon points="561.7,647.5 570,644.2 576.7,639.2 575,631.7 575.8,623.3 580,618.3 585,611.7 588.3,606.7 591.7,600 603.3,600 600.8,602.5 600.8,608.3 605,612.5 615,612.5 617.5,617.5 611.7,622.5 605,624.2 600.8,620.8 593.3,621.7 588.3,628.3 590.8,633.3 590,638.3 600,636.7 605,640 606.7,646.7 602.5,653.3 602.5,660 607.5,664.2 607.5,670 604.2,676.7 600,681.7 593.3,683.3 587.5,688.3 590,696.7 593.3,706.7 593.3,715 590,716.7 586.7,720 582.5,716.7 578.3,722.5 571.7,719.2 567.5,716.7 563.3,718.3 555.8,713.3 557.5,706.7 563.3,703.3 561.7,696.7 565,690 570,690 576.7,686.7 578.3,680 576.7,673.3 573.3,678.3 566.7,681.7 561.7,681.7 558.3,675 563.3,671.7 565.8,663.3 565,653.3" fill="#FFF8C1"/>
<polygon points="567.5,420 588.3,420 586.7,426.7 591.7,430 595.8,438.3 602.5,439.2 603.3,445 600,453.3 595,450 588.3,445 581.7,442.5 577.5,441.7 573.3,435 569.2,426.7" fill="#FFF8C1"/>
<polygon points="627.5,498.3 631.7,495 640,495.8 640,515 631.7,510 630,505" fill="#FFF8C1"/>
<polygon points="578.3,551.7 585.8,546.7 593.3,548.3 603.3,550 610,553.3 608.3,560 600,561.7 593.3,561.7 586.7,563.3 580,566.7 576.7,561.7" fill="#FFF8C1"/>
<polygon points="602.5,570 608.3,565 616.7,563.3 623.3,566.7 619.2,576.7 616.7,583.3 606.7,580 600,575" fill="#FFF8C1"/>
<polygon points="555.8,383.3 565,380 575,381.7 583.3,377.5 591.7,375.8 596.7,376.7 598.3,385 591.7,390 586.7,396.7 583.3,403.3 584.2,409.2 590,413.3 589.2,421.7 587.5,426.7 591.7,430 595,436.7 603.3,438.3 602.5,446.7 599.2,454.2 593.3,450 586.7,443.3 578.3,440 575,433.3 570,426.7 568.3,421.7 561.7,411.7 560.8,405 568.3,400 570,395 565.8,388.3 560,386.7" fill="#FFF8C1"/>
<polygon points="823.3,530.7 829.3,518.7 834.7,517.3 840,524 842.7,529.3 840,537.3 833.3,538.7 826.7,537.3" fill="#FFF8C1"/>
<polygon points="811.3,548.7 818.7,545.3 826.7,540 837.3,540 848,540 853.3,545.3 844,550.7 833.3,553.3 825.3,560 825.3,566.7 822.7,568 818.7,570.7 813.3,572 812.7,566.7 810.7,562.7 806.7,557.3 808,553.3" fill="#FFF8C1"/>
<polygon points="797.3,537.3 798.7,538.7 801.3,543.3 806.7,546.7 811.3,548.7 808,553.3 806.7,557.3 810.7,562.7 812.7,566.7 813.3,572 805.3,570.7 798.7,573.3 797.3,573.3" fill="#FFF8C1"/>
<polygon points="588.3,628.3 593.3,622.5 600,623.3 603.3,621.7 610,622.5 616.7,620 618.3,613.3 624.2,615 631.7,614.2 638.3,615 646.7,618.3 655,623.3 658.3,630 655,636.7 646.7,640 638.3,640 635,646.7 623.3,640 620,635 608.3,632.5 603.3,638.3 590.8,638.3" fill="#FFF8C1"/>
<polygon points="575,577.3 580.8,573.8 589,572.7 600.7,575 605.3,579.7 614.7,582 617,589 615.8,597.2 617,601.8 610,601.8 603,598.3 591.3,599.5 584.3,596 578.5,596 575,586.7" fill="#FFF8C1"/>
<polygon points="801.7,593.3 808.3,589.2 815.8,591.7 819.2,598.3 815,604.2 806.7,603.3 801.7,599.2" fill="#FFFFE5"/>
<polygon points="780,616.7 790,617.5 802.5,619.2 805,626.7 801.7,635 793.3,641.7 786.7,646.7 780,647.5" fill="#FFFFE5"/>
<polygon points="780,686.7 790,684.2 800,688.3 805,695 803.3,701.7 796.7,706.7 788.3,708.3 780,706.7" fill="#FFFFE5"/>
<polygon points="721.7,526.7 726.7,520 733.3,517.5 741.7,520 750,521.7 756.7,523.3 755,530 750,535 743.3,538.3 736.7,541.7 728.3,541.7 721.7,538.3 719.2,533.3" fill="#FFFFE5"/>
<polygon points="588.3,420 605,420 606.7,425 600,430 602.5,439.2 595.8,438.3 591.7,430 586.7,426.7" fill="#D9D9D9"/>
<polygon points="960,216.7 970,212.5 976.7,213.3 977.5,220 975,226.7 975,231.7 971.7,236.7 970,240 976.7,241.7 983.3,246.7 984.2,251.7 976.7,253.3 970,252.5 964.2,253.7 960,251.7 954.2,246.7 953.3,240 950.8,235 950,226.7 953.3,221.7" fill="#D9D9D9"/>
<polygon points="606.7,635 611.7,632.5 614.2,638.3 611.7,646.7 610,655 607.5,664.2 602.5,660 602.5,653.3 606.7,646.7 605,640" fill="#D9D9D9"/>
<polygon points="910.8,338.3 915.8,335.8 921.7,335.8 924.2,341.7 921.7,346.7 920,350.8 915.8,346.7 910.8,345 910,340.8" fill="#FEE79B"/>
<polygon points="856.7,542.5 861.7,541.7 874.2,545.8 873.3,553.3 869.2,556.7 868.3,561.7 862.5,563.3 861.7,568.3 855,568.3 851.7,561.7 847.5,558.3 841.7,563.3 833.3,568.3 825,573.3 821.7,576.7 825,568.3 826.7,558.3 833.3,553.3 843.3,551.7 850,548.3" fill="#FEE79B"/>
<polygon points="870,560.8 878.3,559.2 886.7,556.7 893.3,560 890,565 883.3,568.3 878.3,575 875,580 856.7,580 855,573.3 861.7,568.3 862.5,563.3 868.3,561.7" fill="#FEE79B"/>
<polygon points="870.8,560 900,560 896.7,566.7 888.3,570 880,575 873.3,581.7 866.7,583.3 858.3,581.7 851.7,585 849.2,580 855.8,575 861.7,567.5 863.3,561.7" fill="#FEE79B"/>
<polygon points="810.8,610 818.3,605 824.2,608.3 830,611.7 829.2,616.7 830,623.3 825,630 820,634.2 815.8,638.3 810,633.3 805,626.7 803.3,618.3" fill="#FEE79B"/>
<polygon points="805,700 813.3,695 819.2,698.3 817.5,703.3 814.2,710 810,712.5 805.8,706.7" fill="#FEE79B"/>
<polygon points="780,568.3 786.7,571.7 790,580 780,582.5" fill="#FEE79B"/>
<polygon points="739.2,683.3 741.7,685 746.7,690 750.8,696.7 756.7,701.7 760,698.3 766.7,695 770,698.3 768.3,706.7 769.2,718.3 767.5,723.3 765,730 758.3,732.5 755,736.7 750,739.2 745,737.5 740,736.7 733.3,740.8 728.3,741.7 724.2,743.3 716.7,745.8 710.8,748.3 708.3,741.7 708.3,736.7 710,730.8 714.2,726.7 716.7,721.7 724.2,716.7 728.3,712.5 728.3,705 730.8,698.3 735.8,691.7" fill="#FEE79B"/>
<polygon points="600,681.7 605.8,680 615.8,685.8 620,690 626.7,688.3 633.3,695 630.8,700.8 625,703.3 622.5,705.8 617.5,705 611.7,708.3 607.5,714.2 600,718.3" fill="#FEE79B"/>
<polygon points="621.7,440 645,440 647.5,445 645.8,450.8 640,453.3 639.2,460 635.8,458.3 630.8,455.8 625,452.5 620,447.5 619.2,443.3" fill="#FEE79B"/>
<polygon points="690,586.7 692.5,578.3 698.3,575 698.3,580 703.3,583.3 706.7,590 705,600 703.3,606.7 700,611.7 693.3,616.7 690.8,616.7 690,606.7 688.3,596.7" fill="#FEE79B"/>
<polygon points="713.3,568.3 720,567.5 728.3,570 736.7,572.5 743.3,577.5 751.7,575.8 755.8,575 760,578.3 766.7,573.3 768.3,581.7 771.7,586.7 775,590 777.5,596.7 776.7,605 773.3,611.7 768.3,616.7 767.5,623.3 770.8,631.7 771.7,640 700,640 705,631.7 708.3,625 713.3,621.7 718.3,616.7 720,610 716.7,603.3 720.8,598.3 719.2,593.3 720,586.7 725,581.7 723.3,576.7 715,575 711.7,573.3" fill="#FEE79B"/>
<polygon points="674.2,525 680,526.7 686.7,530 692.5,532.5 695,533.3 700,536.7 704.2,538.3 705.8,543.3 705,550 709.2,553.3 710,560 708.3,568.3 706.7,574.2 698.3,573.3 692.5,578.3 690,586.7 686.7,585 681.7,577.5 675,573.3 676.7,566.7 674.2,559.2 668.3,561.7 666.7,566.7 658.3,563.3 655,558.3 659.2,552.5 664.2,550 667.5,543.3 670,538.3 675,534.2 671.7,530" fill="#FEE79B"/>
<polygon points="656.7,526.7 660,520 665.8,523.3 671.7,522.5 674.2,525 671.7,530 675,534.2 670,538.3 667.5,543.3 664.2,550 659.2,552.5 655,558.3 650,566.7 646.7,568.3 640.8,563.3 633.3,564.2 630.8,560 638.3,555 645,548.3 648.3,540 655,536.7 657.5,531.7" fill="#FEE79B"/>
<polygon points="625,564.2 629.2,561.7 633.3,564.2 640.8,563.3 645,568.3 641.7,573.3 643.3,580 640,586.7 633.3,590 626.7,590.8 622.5,583.3 618.3,577.5 623.3,571.7" fill="#FEE79B"/>
<polygon points="768.3,570 773.3,565 781.7,564.2 786.7,568.3 788.3,575 790,581.7 781.7,585 775,590 771.7,586.7 768.3,581.7" fill="#FEE79B"/>
<polygon points="489.2,666.7 495.8,655 501.7,657.5 506.7,661.7 510.8,666.7 516.7,670 522.5,668.3 520,673.3 515,683.3 506.7,685 500,687.5 499.2,681.7 495,677.5 491.7,673.3" fill="#FEE79B"/>
<polygon points="538.3,648.3 542.5,643.3 548.3,641.7 551.7,644.2 555.8,649.2 561.7,647.5 565,653.3 565.8,663.3 563.3,671.7 558.3,675 556.7,681.7 553.3,685 548.3,683.3 543.3,683.3 536.7,676.7 535,675 536.7,666.7 540,661.7 539.2,655" fill="#FEE79B"/>
<polygon points="587.5,688.3 593.3,683.3 600,681.7 604.2,676.7 608.3,681.7 615,680 620,686.7 620,703.3 611.7,710 606.7,715 601.7,714.2 595,721.7 593.3,715 593.3,706.7 590,696.7" fill="#FEE79B"/>
<polygon points="620,441.7 628.3,440 636.7,435 640,435.8 640,461.7 633.3,458.3 625,453.3 619.2,447.5" fill="#FEE79B"/>
<polygon points="580,566.7 586.7,563.3 593.3,561.7 600,565 602.5,570 600,575 593.3,574.2 586.7,576.7 580,578.3 575,576.7 576.7,570" fill="#FEE79B"/>
<polygon points="614.2,550 620,546.7 626.7,551.7 628.3,558.3 623.3,561.7 616.7,560" fill="#FEE79B"/>
<polygon points="618.3,446.7 623.3,442.5 630,440 636.7,435.8 640,440 647.5,444.2 646.7,450 640,453.3 639.2,460.8 635,459.2 628.3,455 622.5,451.7" fill="#FEE79B"/>
<polygon points="825.3,560 833.3,553.3 844,550.7 853.3,545.3 858.7,542.7 864.7,544 873.3,545.3 875.3,544.7 873.3,549.3 870.7,556 866.7,561.3 861.3,564 857.3,573.3 852,561.3 845.3,560 838.7,569.3 836,572 831.3,570 826.7,573.3 825.3,566.7" fill="#FEE79B"/>
<polygon points="766.7,570.7 773.3,565.3 780,566.7 786.7,570.7 789.3,577.3 786.7,580 768,580" fill="#FEE79B"/>
<polygon points="726.7,723.3 731.7,720 736.7,718.3 739.2,725 738.3,731.7 733.3,736.7 728.3,738.3 725,731.7" fill="#FFFFE5"/>
<polygon points="737,606 747.5,600 761,597 773,598.5 776,604.5 770,609 758,610.5 746,611.2 738.5,610.5" fill="#FFF8C1"/>
<polygon points="750,554.2 758.3,550.8 764.2,553.3 763.3,559.2 755,560" fill="#D9D9D9"/>
<polygon points="784.2,560 788.3,556.7 791.7,561.7 788.3,566.7 784.2,565" fill="#D9D9D9"/>
<polygon points="775,586.7 781.7,585 790,581.7 795,578.3 800,575.8 800,595 791.7,595.8 783.3,595 777.5,596.7" fill="#D9D9D9"/>
<polygon points="782.5,608.3 790,606.7 795,610 793.3,615.8 786.7,616.7 782.5,613.3" fill="#D9D9D9"/>
<polygon points="768.3,616.7 773.3,615 776.7,623.3 775,633.3 776.7,640 771.7,640 770.8,631.7 767.5,623.3" fill="#D9D9D9"/>
<polygon points="844.7,530.7 852,529.3 854.7,530.7 860,536 858.7,540.7 850.7,538.7 845.3,537.3" fill="#D9D9D9"/>
<polygon points="750,553.3 758.7,550 764,554.7 762.7,559.3 754.7,558.7" fill="#D9D9D9"/>
<polygon points="784.7,558.7 788.7,556 792,561.3 789.3,566 785.3,565.3" fill="#D9D9D9"/>
<polygon points="790.7,580 798.7,573.3 805.3,570.7 813.3,572 818.7,570.7 822.7,568 825.3,573.3 822.7,577.3 826.7,573.3 831.3,570 836,572 842.7,578.7 844,580" fill="#D9D9D9"/>
<polygon points="838.7,569.3 845.3,560 852,561.3 857.3,573.3 853.3,580 842.7,578.7 836,572" fill="#D9D9D9"/>
<polygon points="875.3,544.7 880,542.7 880,553.3 873.3,557.3 870.7,556 873.3,549.3" fill="#D9D9D9"/>
<polygon points="717.5,695.8 721.7,694.2 726.7,691.7 731.7,690 735.8,691.7 730.8,698.3 728.3,705 728.3,712.5 724.2,716.7 716.7,721.7 714.2,726.7 710,730.8 708.3,736.7 702.5,740 697.5,736.7 695,731.7 696.7,726.7 700,720 698.3,715 701.7,711.7 708.3,711.7 712.5,706.7 713.3,700" fill="#FECE65"/>
<polygon points="740.8,671.7 741.7,668.3 749.2,667.5 754.2,669.2 756.7,673.3 763.3,678.3 770,681.7 771.7,688.3 766.7,695 760,698.3 756.7,701.7 750.8,696.7 746.7,690 741.7,685 739.2,683.3 738.3,675.8" fill="#FECE65"/>
<polygon points="723.3,644.2 725,640 750,640 745,645 745,651.7 743.3,656.7 745,663.3 749.2,667.5 741.7,668.3 740.8,671.7 733.3,675.8 729.2,675 726.7,669.2 720,670.8 725,665 724.2,659.2 728.3,653.3 725.8,650" fill="#FECE65"/>
<polygon points="660,728.3 666.7,726.7 670,726.7 669.2,728.3 670,733.3 675,736.7 680,738.3 678.3,738.3 671.7,740.8 666.7,740.8 661.7,740 658.3,736.7 658.3,731.7" fill="#FECE65"/>
<polygon points="690,640 700,640 702.5,646.7 706.7,649.2 700,650 695,651.7 690.8,646.7" fill="#FECE65"/>
<polygon points="698.3,575 706.7,575.8 715,575 723.3,576.7 725,581.7 720,586.7 719.2,593.3 720.8,598.3 716.7,603.3 720,610 718.3,616.7 713.3,621.7 708.3,625 705,631.7 700,640 693.3,640 692.5,630 686.7,628.3 683.3,626.7 690,621.7 693.3,616.7 700,611.7 703.3,606.7 705,600 706.7,590 703.3,583.3 698.3,580" fill="#FECE65"/>
<polygon points="725,635 733.3,631.7 741.7,633.3 758.3,633.3 766.7,640 723.3,640" fill="#FECE65"/>
<polygon points="507.5,600 512.5,600 511.7,605 509.2,604.2" fill="#FECE65"/>
<polygon points="475.8,490 480.8,484.2 485,483 493.3,486.7 495,491.7 500,500 503.3,505 510,507.5 516.7,511.7 520.8,507.5 525,513.3 530,515.8 533.3,518.3 535,523.3 539.2,528.3 540,535 546.7,539.2 553.3,541.7 560,546.7 562.5,550 560,555 565.8,555.8 564.2,565 562.5,571.7 564.2,578.3 558.3,580 560,586.7 556.7,595 553.3,600 550,601.7 546.7,596.7 541.7,586.7 535.8,588.3 531.7,595 530,603.3 527.5,610 523.3,605 520,596.7 516.7,593.3 511.7,605 508.3,600 506.7,586.7 505.8,570 504.2,555 500.8,547.5 498.3,543.3 501.7,538.3 497.5,535 493.3,525 488.3,520 478.3,515 475.8,510 479.2,503.3 480,498.3 476.7,495" fill="#FECE65"/>
<polygon points="706.7,625 713.3,621.7 720,616.7 730,618.3 736.7,621.7 738.3,628.3 733.3,631.7 726.7,635 721.7,640.8 701.7,640.8 703.3,631.7" fill="#FFFFE5"/>
<polygon points="695,651.7 700,650 706.7,649.2 710.8,645.8 716.7,644.2 723.3,644.2 725.8,650 728.3,653.3 724.2,659.2 725,665 720,670.8 720,676.7 716.7,681.7 712.5,684.2 708.3,684.2 704.2,680 698.3,675.8 695,670.8 696.7,663.3 697.5,655.8" fill="#FEAC3A"/>
<polygon points="709.2,688.3 706.7,683.7 712.5,684.2 715,690 717.5,695.8 713.3,700 712.5,706.7 708.3,711.7 701.7,711.7 698.3,715 694.2,717.5 690.8,713.3 687.5,708.3 688.3,704.2 695,702.5 700,700.8 703.3,696.7 706.7,693.3" fill="#FEAC3A"/>
<polygon points="674.2,725.8 678.3,721.7 683.3,720.8 690,720 694.2,717.5 698.3,715 700,720 696.7,726.7 695,731.7 690,734.2 683.3,735.8 680,738.3 675,736.7 670,733.3 669.2,728.3" fill="#FEAC3A"/>
<polygon points="611.7,650 618.3,646.7 626.7,645 635,646.7 635.8,653.3 637.5,660 640,667.5 633.3,672.5 621.7,670.8 615,671.7 610,673.3 608.3,665 610,656.7" fill="#FEAC3A"/>
<polygon points="745,645 750,640 776.7,640 773.3,648.3 774.2,656.7 772.5,662.5 766.7,663.3 760.8,660.8 756.7,663.3 754.2,669.2 749.2,667.5 745,663.3 743.3,656.7 745,651.7" fill="#FEAC3A"/>
<polygon points="600,490 604.2,493.3 606.7,498.3 605.8,503 600,501.7" fill="#FEAC3A"/>
<polygon points="668.3,589.2 673.3,595.8 678.3,600 681.7,605 686.7,602.5 688.3,596.7 690,606.7 690.8,616.7 690,621.7 683.3,620.8 678.3,620 670,621.7 661.7,625 663.3,616.7 665,606.7 663.3,600" fill="#FEAC3A"/>
<polygon points="611.7,647.5 620,648.3 620,671.7 613.3,672.5 606.7,676.7 607.5,670 607.5,664.2 610,655" fill="#FEAC3A"/>
<polygon points="523.3,600 530,600 529.2,606.7 525.8,609.2 524.2,605" fill="#FEAC3A"/>
<polygon points="537.5,480.8 540.8,479.2 548.3,481.7 555,484.2 560,481.7 563.3,477.5 558.3,474.2 557.5,469.2 562.5,465 564.2,459.2 568.3,455.8 573.3,457.5 580,460.8 586.7,462.5 590.8,467.5 595,469.2 593.3,473.3 590,478.3 590.8,481.7 596.7,485.8 602.5,490.8 605,495 606.7,500 604.2,502.5 600,498.3 595,495 588.3,493.3 581.7,491.7 578.3,485.8 575,481.7 570,483.3 565,486.7 563.3,491.7 567.5,495.8 563.3,500 556.7,503.3 555,498.3 550,494.2 545,491.7 540,487.5" fill="#FEAC3A"/>
<polygon points="557.5,470 563.3,461.7 568.3,455.8 575,458.3 583.3,463.3 593.3,467.5 594.2,473.3 590,480 558.3,480" fill="#FEAC3A"/>
<polygon points="720,670.8 726.7,669.2 729.2,675 733.3,675.8 738.3,675.8 739.2,683.3 735.8,691.7 731.7,690 726.7,691.7 721.7,694.2 717.5,695.8 715,690 712.5,684.2 716.7,681.7 720,676.7" fill="#F68720"/>
<polygon points="655,640 690,640 690.8,646.7 692.5,650.8 690,652.5 683.3,655.8 677.5,659.2 673.3,660.8 670,656.7 669.2,650 665,645 658.3,642.5" fill="#F68720"/>
<polygon points="661.7,625 670,621.7 678.3,620 683.3,620.8 681.7,626.7 686.7,628.3 692.5,630 693.3,640 655,640 660,635" fill="#F68720"/>
<polygon points="604.2,675.8 610,673.3 615,671.7 621.7,670.8 633.3,672.5 642.5,667.5 643.7,668.3 643,673.3 644.2,681.7 645.8,687.5 651.7,691.7 659.2,695 662.5,698.3 665.8,695.8 670,694.2 673.3,690 675,695 680,696.7 683.3,702.5 688.3,704.2 687.5,708.3 690.8,713.3 694.2,717.5 690,720 683.3,720.8 678.3,721.7 674.2,725.8 670,726.7 666.7,721.7 665,715 660,710 655,706.7 650,704.2 645.8,706.7 642.5,713.3 635.8,713.3 628.3,710 623.3,708.3 622.5,705.8 625,703.3 630.8,700.8 633.3,695 626.7,688.3 620,690 615.8,685.8 605.8,680 603.3,675.8" fill="#E1640E"/>
<polygon points="604.2,676.7 606.7,676.7 613.3,672.5 620,671.7 620,686.7 615,680 608.3,681.7" fill="#E1640E"/>
<polygon points="678.3,663.3 677.5,659.2 683.3,655.8 690,652.5 695,650.8 697.5,655.8 696.7,663.3 695,670.8 698.3,675.8 704.2,680 708.3,684.2 705,684.2 700,687.5 693.3,691.7 688.3,690 682.5,685.8 678.3,686.7 682.5,681.7 685,675 685.8,669.2 681.7,667.5" fill="#C14702"/>
<polygon points="678.3,686.7 682.5,685.8 688.3,690 693.3,691.7 700,687.5 705,684.2 709.2,688.3 706.7,693.3 703.3,696.7 700,700.8 695,702.5 688.3,704.2 683.3,702.5 680,696.7 675,695 673.3,690" fill="#933204"/>
<polygon points="702.5,536.7 705.8,532.5 710,530.8 715.8,531.3 718.7,535 716.7,538.3 711.7,538.3 710.8,541.3 705.8,541.3" fill="#933204"/>
<polygon points="635.8,646.7 643.3,644.2 655,643.3 665,645 669.2,650 670,656.7 673.3,660.8 668.3,666.7 662.5,667 657.5,665 653.3,660.8 650,660 647.5,665 643.7,668.3 640,667.5 637.5,660 635.8,653.3" fill="#FFFFE5"/>
<polygon points="700,640 720,640 716.7,644.2 710.8,645.8 706.7,649.2 702.5,646.7" fill="#FFFFE5"/>
<polygon points="650,660 653.3,660.8 657.5,665 662.5,667 668.3,666.7 673.3,661.3 678.3,663.3 681.7,667.5 685.8,669.2 685,675 682.5,681.7 678.3,686.7 673.3,690 670,694.2 665.8,695.8 662.5,698.3 659.2,695 651.7,691.7 645.8,687.5 644.2,681.7 643,673.3 643.7,668.3 647.5,665" fill="#662506"/></g>
<g fill="none" stroke="#555" stroke-width="1.2" stroke-linejoin="round"><polyline points="908.3,92.2 913.7,96.7 910,101.7 905,106.7 911.7,111.7 916.7,113 920.8,109.7 926.7,112.5 931.7,115 930,120 933.3,128.3 935.8,133.3 943.3,134.2 948.3,131.7 956.7,133 966.7,131.7 973.3,127 979.2,128.3 985,134.2 990,138.3 988.3,142.5 983.3,150 976.7,160 975,166.7 975.8,175 970,178.3 965,185.8 963.7,193.3 961.7,199.2 959.7,191.7 957.5,191.3 943.3,201.7 931.7,209.2 925.8,214.2 931.7,220 936.7,226.7 940.8,222.5 945.8,222.5 947.5,226.7 942.5,228.3 936.7,230 935.8,233.3 941.7,235.8 950.8,235 953.3,240 954.2,246.7 960,251.7 964.2,253.7 970,252.5 976.7,253.3 984.2,251.7 986.7,256.7 991.7,259.2 1001.7,257.5 1007.5,261.7 1009.2,270"/>
<polyline points="937,234.2 933.3,240 932.5,247.5 923.3,244.2 915,241.7 911.7,246.7 918.3,251.7 920,255.8 918.3,263.3 919.2,270"/>
<polyline points="1000,257.5 1006.7,260.8 1008.3,268.3 1015.8,271.7 1020.8,280 1025.8,279.2 1030.8,273.3 1034.2,277.5 1037.5,285.8 1041.7,291.7 1047.5,290.8 1048.3,286.7 1058.3,283.3 1063.3,285.8 1068.3,282.5 1069.2,289.2 1075.8,292.5 1085.3,295"/>
<polyline points="919.2,260 920,266.7 923.3,276.7 930,275.8 937.5,272.5 940.8,278.3 944.2,287.5 942.5,292.5 947.5,295 950,294.2"/>
<polyline points="950,294.2 955.8,299.2 962.5,305 967.5,300.8 970.8,307.5 975,315.8 980,322.5 978.3,328.3 984.2,339.2 984.7,342.5 983.3,346.7"/>
<polyline points="950,294.2 946.7,302.5 941.7,303.3 935,307.5 925,307.5 916.7,311.7 905,315 895,319.2 888.3,322.5 883.3,329.2 880,324.2"/>
<polyline points="765,432.5 771.7,425 776.7,411.7 771.7,403.3 765.8,396.7 768.3,389.2 773.3,383.3 781.7,381.7 784.2,373.3 780,368.3 773.3,364.2 778.3,359.2 782.5,357.5 778.3,352.5 776.7,346.7 770.8,341.7 773.3,333.3 779.2,328.3 781.7,322.5 790,320.8 790.8,330 796.7,331.7 806.7,325.8 816.7,323.3 825,322.5 826.7,315 836.7,311.7 843.3,311.7 846.7,318.3 850.8,323.3 849.2,330.8 853.3,336.7 862.5,337.5 868.3,335.8 870.8,330 868.3,320 873.3,315.8 879.2,321.7 880.3,324.7"/>
<polyline points="868.3,335.8 862.5,343.3 863.3,350 873.3,353.3 876.7,363.3 879.2,364.2"/>
<polyline points="778.3,352.5 773.3,354.2 766.7,355.8 758.3,356.7 751.7,360 745,359.2 740,365 736.7,371.7 728.3,372.5 723.3,375 715,376.7 705,375.8 700,380"/>
<polyline points="723.3,375 720,386.7 712.5,400 711.7,406.7 715.8,413.3 712.5,420 710,426.7 710.8,443.3 712.5,460"/>
<polyline points="769.2,439.2 783.3,441.7 795,444.2 800,442.5 797.5,436.7 803.3,428.3 808.3,420 816.7,414.2 823.3,409.2 835,406.7 841.7,400.8"/>
<polyline points="800,366.7 803.3,361.7 809.2,358.3 805.8,353.3 813.3,350 817.5,345.8 821.7,343.3 825,347.5 833.3,350.8 836.7,351.7 833.3,356.7 835.8,360 831.7,362.5 825,364.2 825.8,370 824.2,372.5 818.3,375 815,373.3 806.7,374.2 801.7,371.7 800,366.7"/>
<polyline points="831.7,362.5 838.3,360 841.7,365 838.3,368.3 841.7,373.3 843.3,376.7 838.3,378.3 844.2,384.2"/>
<polyline points="840,393.3 833.3,394.2 828.3,391.7 823.3,389.2 824.2,383.3 826.7,376.7 824.2,372.5"/>
<polyline points="825,364.2 831.7,363 832.5,367.5 830,372.5 826.7,371.7 825.8,368.3 825,364.2"/>
<polyline points="874.2,545.8 878.3,545 883.3,548.3 890,551.7 896.7,548.3 900,551.7 901.7,556.7"/>
<polyline points="874.2,545.8 873.3,553.3 869.2,556.7 868.3,561.7 865,562.5"/>
<polyline points="896.7,548.3 901.7,545 904.2,539.2 902.5,532.5 906.7,530.8 916.7,538.3"/>
<polyline points="890,626.7 885.8,622.5 880,624.2 875.8,617.5 871.7,620 863.3,620.8 860,610 858.3,605 854.2,604.2 853.3,596.7 848.3,590 846.7,585 849.2,580 855.8,575 861.7,567.5 863.3,561.7 870.8,560"/>
<polyline points="849.2,580.8 843.3,576.7 836.7,575.8 831.7,570.8 827.5,575.8 821.7,576.7 821.7,573.3 825.8,570 823.3,567.5 818.3,570.8 809.2,571.7 798.3,575.8 790,580 780,581.7"/>
<polyline points="809.2,571.7 810.8,566.7 809.2,560"/>
<polyline points="854.2,604.2 846.7,608.3 841.7,611.7 835,611.7 829.2,616.7 830,623.3 825,630 820,634.2 820,641.7 817.5,648.3 812.5,655 810,663.3 807.5,670 807.5,674.2 815.8,673.3 820,677.5 825,680 827.5,688.3 828.3,695 831.7,699.2 835,700"/>
<polyline points="807.5,674.2 805.8,680 798.3,676.7"/>
<polyline points="690,640 690.8,646.7 695,651.7 700,650 706.7,649.2 710.8,645.8 716.7,644.2 723.3,644.2 725.8,650 728.3,653.3 724.2,659.2 725,665 720,670.8 726.7,669.2 729.2,675 733.3,675.8 740.8,671.7 741.7,668.3 749.2,667.5 754.2,669.2 756.7,663.3 760.8,660.8 766.7,663.3 772.5,662.5 774.2,656.7 773.3,648.3 776.7,640"/>
<polyline points="738.3,675.8 739.2,683.3 735.8,691.7 730.8,698.3 728.3,705 728.3,712.5 724.2,716.7 716.7,721.7 714.2,726.7 710,730.8 708.3,736.7 702.5,740 700,745.8"/>
<polyline points="774.2,656.7 778.3,661.7 785,663.3 787.5,667.5 780,672.5 780,678.3 786.7,680 793.3,675.8 800,675"/>
<polyline points="605,640 603.3,648.3 600,655.8 602.5,660 603.3,671.7 605.8,680 615.8,685.8 620,690 626.7,688.3 633.3,695 630.8,700.8 625,703.3 622.5,705.8"/>
<polyline points="603.3,672.5 612.5,671.7 621.7,670 633.3,672.5 642.5,667.5 650,660 656.7,665 666.7,666.7 673.3,660.8 678.3,658.3 683.3,655.8 690,652.5 695,651.7"/>
<polyline points="678.3,440 677.5,446.7 675,452.5 677.5,458.3 670,460.8 663.3,462.5 664.2,467.5 657.5,466.7 650,468.3 645,465 640,465.8 640.8,471.7 637.5,475.8 642.5,480 640,486.7 640.8,493.3 635.8,495.8 629.2,497.5 626.7,503.3 630,509.2 625,510.8 620,511.7 615,513.3 608.3,514.2 600,511.7"/>
<polyline points="630,509.2 635.8,511.7 643.3,513.3 650,515 655,518.3 660,520 665.8,523.3 671.7,522.5 674.2,525 680,526.7 686.7,530 692.5,532.5 695,533.3"/>
<polyline points="695,533.3 695.8,526.7 694.2,518.3 698.3,515.8 705,515 706.7,510.8 700.8,508.3 698.3,505 693.3,503.3 700,503 708.3,503.7 716.7,503.3 720,502.5"/>
<polyline points="720,502.5 719.2,496.7 715,490 712.5,485 710,480 708.3,475 706.7,470 709.2,463.3 711.7,456.7 713.3,448.3 711.7,440"/>
<polyline points="708.3,475 716.7,472.5 720.8,471.3"/>
<polyline points="674.2,525 671.7,530 675,534.2 670,538.3 667.5,543.3 664.2,550 659.2,552.5 655,558.3 650,566.7 646.7,568.3 640.8,563.3 633.3,564.2 629.2,561.7 625,564.2 623.3,571.7 618.3,577.5 622.5,583.3 626.7,590.8 633.3,593.3 639.2,596.7 643.3,594.2 650,590.8 655,590 657.5,585.8 664.2,586.7 668.3,589.2 673.3,595.8 678.3,600 681.7,605 686.7,602.5 688.3,596.7"/>
<polyline points="695,533.3 700,536.7 704.2,538.3 705.8,543.3 705,550 700,552.5 693.3,555 688.3,557.5 681.7,556.7 674.2,559.2 676.7,566.7 675,573.3 681.7,577.5 686.7,585 689.2,590 688.3,596.7"/>
<polyline points="688.3,596.7 690,606.7 690.8,616.7 690,621.7 683.3,626.7 686.7,628.3 692.5,630 693.3,640"/>
<polyline points="688.3,596.7 690,586.7 692.5,578.3 698.3,573.3 706.7,574.2 711.7,573.3 713.3,568.3 720,567.5 728.3,570 736.7,572.5 743.3,577.5 751.7,575.8 755.8,575 760,578.3 766.7,573.3 768.3,581.7 771.7,586.7 775,590 777.5,596.7 776.7,605 773.3,611.7 768.3,616.7 767.5,623.3 770.8,631.7 771.7,640"/>
<polyline points="775,590 781.7,585 790,581.7 795,578.3 800,575"/>
<polyline points="523.3,600 528.3,606.7 533.3,611.7 536.7,616.7 540,623.3 545,631.7 549.2,638.3 551.7,644.2 555.8,649.2 561.7,647.5 570,644.2 576.7,639.2 575,631.7 575.8,623.3 580,618.3 585,611.7 588.3,606.7 591.7,600"/>
<polyline points="588.3,628.3 593.3,621.7 600.8,620.8 605,624.2 611.7,622.5 617.5,617.5 615,612.5 605,612.5 600.8,608.3 600.8,602.5 603.3,600"/>
<polyline points="588.3,628.3 590.8,633.3 590,638.3 600,636.7 605,640"/>
<polyline points="489.2,606.7 493.3,602.5 498.3,603.3 500,600"/>
<polyline points="145.5,479.5 160,477 163.8,467.5 170,458.8 182.5,460 192.5,462 200,460 205,453.8 215,453 220,458.8 232.5,459.5 242.5,456.2 255,451.2 263.8,452.5 273.8,447.5 276.2,442.5 295,438.8 312.5,436.2 322.5,440 330,440.5"/>
<polyline points="333.8,446.2 335,460 338.8,470 337.5,485 343.8,495 352.5,502.5 363.8,505 377.5,510 390,512.5 402.5,516.2 415,517.5 426.2,515 436.2,521.2"/>
<polyline points="457.5,308 451.2,313.8 453.8,323.8 442.5,327.5 437.5,331.2 433.8,328.8 422.5,335 415,342.5 410.5,350 395.5,352.5 391.2,370 385.5,381.2 385.5,383.8"/>
<polyline points="385.5,383.8 353.8,392.5 345.5,396.2 352.5,400 353,411.2 362.5,416.2 366.2,423.8 356.2,430 361.2,437.5 362.5,445 345,441.2 330,442.5"/>
<polyline points="385.5,383.8 397.5,382 401.2,386.2 411.2,387.5 421.2,390 425,397.5 437.5,397.5 445,397.5 455,402 466.2,393.8 468.8,381.2 477.5,382.5 488.8,388.8 501.2,383.8 512.5,393.8 527.5,397.5 542.5,406.2 560,411.2"/>
<polyline points="472.5,307.5 480,325 483.8,330 480,334.2 492.5,347.5 493.8,352.5 505,348.8 517.5,345.8 525,346.2 527.5,350.8 525,358.8 513.8,366.2 527.5,371.2 537.5,377.5 538.8,385 550,388.8 553.8,392.5 560,387.5 556.2,383"/>
<polyline points="475.8,510 479.2,503.3 480,498.3 476.7,495 475.8,490 480.8,484.2 485,483 493.3,486.7 495,491.7 500,500 503.3,505 510,507.5 516.7,511.7 520.8,507.5 525,513.3 530,515.8 533.3,518.3 535.8,516.7 543.3,513.3 544.2,506.7 542.5,503.3 546.7,501.7 553.3,501.7 555,497.5 556.7,503.3 563.3,500 567.5,495.8 563.3,491.7 565,486.7 570,483.3 575,481.7 578.3,485.8 581.7,491.7 588.3,493.3 595,495 600,498.3 604.2,502.5 600,505"/>
<polyline points="475.8,510 478.3,515 488.3,520 493.3,525 497.5,535 501.7,538.3 498.3,543.3 500.8,547.5 504.2,555 505.8,570 506.7,586.7 504.2,590 499.2,590 498.3,596.7 499.2,603.3 495,606.7 490,603.3 490.8,610 493.3,620"/>
<polyline points="440,525 443.3,531.7 448.3,533.3 453.3,535 455.8,530 461.7,533.3 465.8,528.3 473.3,525 475,517.5 478.3,515"/>
<polyline points="567.5,420 569.2,426.7 573.3,435 577.5,441.7 575,448.3 571.7,453.3 568.3,455.8 564.2,459.2 562.5,465 557.5,469.2 558.3,474.2 563.3,477.5 560,481.7 555,484.2 548.3,481.7 540.8,479.2 537.5,480.8 540,487.5 545,491.7 550,494.2 555,497.5"/>
<polyline points="605,420 614.2,425.8 616.7,433.3 620,441.7 619.2,447.5 625,453.3 633.3,458.3 638.3,461.7"/>
<polyline points="584.2,409.2 590,411.7 600,416.7 606.7,415.8 613.3,415 620,411.7 626.7,409.2 627.5,396.7 630,386.7 635,380 643.3,377.5 647.5,383.3 643.3,390 640,399.2 651.7,404.2 660.8,408.3"/>
<polyline points="660.8,408.3 655,413.3 653.3,421.7 653.3,426.7 666.7,431.7 675.8,436.7 678.3,442.5"/>
<polyline points="660.8,408.3 666.7,413.3 673.3,411.7 680,406.7 685,405.8 682.5,405 684.2,399.2 690,393.3 695,386.7 700.8,380.8 705,375.8"/>
<polyline points="643.3,423.3 640,431.7 636.7,435.8"/>
<polyline points="643.3,423.3 653.3,422.5"/>
<polyline points="800,442 800,448.7 805.3,446.7 811.3,444.7 802.7,451.3 797.3,455.3 792,459.3 788.7,466 794.7,468 800,473.3 806.7,474.7 813.3,475.3 816,474.7 817.3,470.7 821.3,468.7 826,468.7 830.7,474 832.7,478 838.7,476 845.3,474 850,478 853.3,476.7 854.7,474 860,471.3 861.3,467.3 868,465.3 872,461.3"/>
<polyline points="816,474.7 814,478 820,481.3 821.3,488 817.3,490.7 812.7,492.7 809.3,486.7 805.3,485.3 802.7,488 802.7,494.7 798.7,497.3 796.7,503.3 790.7,505.3 792.7,508.7 796,512 796.7,516 801.3,518.7 806,516.7 808.7,519.3 808.7,528 807.3,532.7 801.3,536 798.7,538.7 801.3,543.3 806.7,546.7 811.3,548.7 808,553.3 806.7,557.3 810.7,562.7"/>
<polyline points="720,495.3 721.3,502.7 725.3,508.7 732,514.7 740,519.3 749.3,520 760,519.3 764,522 769.3,520 770.7,526.7 776,532 782.7,534 786.7,537.3 794.7,537.3 798.7,538.7"/>
<polyline points="818,473.3 825.3,477.3 828,483.3 834.7,485.3 840.7,487.3 842,492 848.7,493.3 845.3,501.3 849.3,504.7 852,512.7 857.3,512.7 860,509.3 864.7,508.7 868,513.3 866,517.3 858.7,515.3 857.3,519.3 858,522.7 853.3,526.7 854.7,530.7 860,536 860.7,541.3 864.7,544 873.3,545.3"/>
<polyline points="769.3,439.3 766.7,448 766,454 760,457.3 752,461.3 740,462.7 733.3,468 720,472"/>
<polyline points="720,567.3 728,569.3 736,572 742,576.7 748.7,577.3 754.7,573.3 756,576.7 760,580"/>
<polyline points="591.7,600 592.5,597.5 600,597.5 602.5,600.8"/>
<polyline points="617.5,617.5 618.3,613.3 624.2,615 631.7,614.2 636.7,611.7 633.3,606.7 626.7,605 624.2,600 628.3,595.8 633.3,596.7 636.7,599.2 638.3,596.7 633.3,593.3"/></g>
<g fill="none" stroke="#555" stroke-width="1.25" stroke-linejoin="round"><polygon points="97.5,450 91.2,437.5 81.2,426.2 65,423.8 65,421.2 76.2,418.8 71.2,407.5 70,396.2 62.5,392.5 53.8,393.8 51.2,385 47.5,377.5 53.8,370 55,363.8 70,356.2 83.8,351.2 87.5,357.5 101.2,355.5 105,346.2 110,342.5 123.8,343.8 130,336.2 145,330 166.2,322.5 167,308.8 173.8,301.2 177.5,298.8 171.2,280 170.5,271.2 161.8,264.2 170,260 193.8,255 208.8,257.5 210,253.8 205,248.8 206.2,241.2 213.8,227.5 219.5,217 233.8,222.5 250,221.2 253.8,223.8 263.8,218.8 266.2,213.8 263.8,200 267.5,192.5 281.2,190 285,181.2 291.2,177 305,177 306.2,185 318.8,195 330,201.2 343.8,203.8 351.2,210 355,220 362,227.5 360,240 355,250 358.8,258 375,260.5 405,263 430,276.2 440,277.5 441.2,283.8 450,300 457.5,308 472.5,307.5 510,312 530,309.2 556.2,313.8 561.2,320 580,322.5 590,327 603.8,327 612.5,331.2 617.5,328 630,323 655,315 692.5,313.8 710,307.5 717.5,297.5 737.5,287.5 736.2,282.5 727.5,273.8 737.5,260.5 750,265 765,267 785,253.8 805,250 815,243.8 822.5,235 835,230 855,227 880,230 880,223.8 870,213.8 856.2,201.2 842.5,201.2 835,207.5 827.5,203.8 812.5,203.8 808.8,207 802,198.8 806.2,195 822.5,163.8 842.5,169.5 855,162.5 860,161.3 867.5,159.2 870,155 866.7,151.7 872.5,143.3 882.5,127.5 893.3,118.3 895.8,114.2 893.3,107.5 883.3,106.7 882.5,103.3 889.2,100 895.8,94.2 908.3,92.2 924.2,88.7 940,87 950,88 956.7,91.3 963.3,95.3 973.3,94.7 983.3,99.2 991.7,105 996.7,113.3 1001.7,125 1006.7,134.2 1010.8,141.7 1014.2,150 1018.3,157.5 1017.5,162.5 1021.7,167.5 1031.7,169.7 1038.3,168.7 1046.7,172.5 1053.3,171.7 1060,176.7 1063.3,180 1073.3,183.7 1072.5,188.3 1076.3,194.2 1074.2,198.3 1079.2,207 1090,207 1100,207 1107.5,205.8 1109.2,202 1116.7,198.3 1126.7,196.3 1138.3,193 1146.7,192.5 1152.5,192.5 1146.7,195.8 1143.7,201.7 1147.5,207 1142.5,211.7 1137.5,214.2 1135,223.3 1132.5,231.7 1131.7,236.7 1125,245 1123.3,250 1118.3,253.3 1117.5,260 1114.2,261.7 1106.7,259.2 1098.3,257.5 1095,255 1089.2,261.7 1079.2,265 1082.5,271.7 1084.2,281.7 1083.3,288.3 1085.3,295 1081.7,301.7 1080,305.8 1073.3,306.7 1065.8,307.5 1071.7,311.7 1073,315.3 1066.7,310 1062.5,304.2 1058.3,305 1055.8,315 1048.3,316.7 1045,320.8 1040,323.3 1027.5,324.2 1030.8,331.7 1028.3,335.8 1018.3,334.2 1011.7,333.3 1006.7,328.3 1002.5,330 999.2,335 996.7,338.3 989.2,345 983.3,346.7 975,353.3 970,356.7 960,364.2 955.8,369.2 946.7,369.2 936.7,373.3 928.3,377.5 921.7,381.7 912.5,385.8 903.3,390 901.7,387.5 905,384.2 910.8,383.3 910.8,379.2 905,376.7 904.2,373.3 909.2,368.3 915.8,361.7 922.5,355 919.2,350 913.3,346.7 903.3,347.5 896.7,351.7 891.7,360 880,364.2 873.3,368.3 869.2,375 865,380 860,382.5 855.8,385.8 850,383.3 845.8,380 844.2,384.2 839.2,386.7 840,394.2 844.2,398.3 853.3,401.7 862.5,405 867.5,408.3 868.3,411.7 863.3,414.2 864.2,419.2 870,422.5 876.7,422.5 880,417.5 886.7,412.5 895,409.2 901.7,412.5 908.3,415.8 916.7,415 923.3,416.7 930,418 928.3,425 925,429.2 917.5,427.5 910,430.8 903.3,433.3 898.3,435.8 893.3,440.8 886.7,445.8 883.3,450.8 878.3,455 873.3,460 870.8,465 867.5,466.7 869.2,470.8 878.3,476.7 887.5,480.8 890.8,490 895.8,501.7 899.2,511.7 906.7,520 910.8,526.7 916.7,532.5 917.5,538.3 915,544.2 916.7,550 916.7,553.3 908.3,554.2 901.7,556.7 906.7,560.8 913.3,566.7 917.5,571.7 918.3,575 917.5,583.3 913.3,589.2 911.7,595.8 909.2,602.5 903.3,608.3 898.3,613.3 895,617.5 891.7,624.2 886.7,630 881.7,635 877.5,638.3 878.3,643.3 875.8,650 876.7,658.3 871.7,662.5 865,667.5 860,673.3 855,679.2 849.2,682.5 846.7,686.7 841.7,693.3 835,700 828.3,701.7 822.5,705.8 818.3,711.7 811.7,714.2 805,715.8 800,716.7 794.2,715.8 788.3,718.3 783.3,718.3 780.8,721.7 775,725 769.2,718.3 767.5,723.3 765,730 758.3,732.5 755,736.7 750,739.2 745,737.5 740,736.7 733.3,740.8 728.3,741.7 724.2,743.3 716.7,745.8 710.8,748.3 706.7,753.3 707.5,756.7 711.7,760 713.3,765 709.2,767.5 700.8,768.3 700,763.3 697.5,756.7 696.7,750.8 700,745.8 697.5,742.5 691.7,743.3 685.8,743.3 684.2,740 678.3,738.3 671.7,740.8 666.7,740.8 661.7,740 655.8,740 651.7,736.7 646.7,735 642.5,731.7 640.8,723.3 644.2,716.7 642.5,715 635.8,713.3 628.3,710 623.3,708.3 622.5,705.8 617.5,705 611.7,708.3 607.5,714.2 600,718.3 601.7,714.2 595,721.7 590,716.7 586.7,720 582.5,716.7 578.3,722.5 571.7,719.2 567.5,716.7 563.3,723.3 553.3,722.5 550.8,728.3 554.2,735 555,741.7 553.3,746.7 555,748.3 545.8,748.3 544.2,741.7 542.5,736.7 536.7,740.8 531.7,743.3 525.8,741.7 521.7,735.8 520.8,731.7 514.2,730 508.3,729.2 510.8,723.3 510.8,716.7 514.2,715 513.3,710 503.3,707.5 501.7,700 499.2,693.3 501.7,689.2 493.3,689.2 486.7,690.8 481.7,694.2 479.2,692.5 482.5,686.7 479.2,680 481.7,673.3 484.2,666.7 490,661.7 495.8,655 499.2,650 500,645 500.8,636.7 500,626.7 499.2,618.3 493.3,619.2 490.8,611.7 489.2,606.7 491.2,603.8 486.2,605 480,598.8 476.2,607.5 471.2,615 460,607.5 448.8,603.8 440,607.5 430,615 417.5,620 411.2,630 395,631.2 381.2,632.5 380,623.8 371.2,617.5 368.8,611.2 361.2,608.8 352.5,610 343.8,606.2 336.2,606.2 330,611.2 326.2,623.8 321.2,621.2 320,608.8 312.5,608.8 302.5,612.5 292.5,612.5 282.5,607.5 272.5,611.2 265,602.5 256.2,601.2 255,596.2 245,593.8 238.8,588.8 237.5,583.8 228.8,585 222.5,577.5 212.5,572.5 202.5,566.2 200,561.2 191.2,560 186.2,568 181.2,563.8 166.2,556.2 157.5,548.8 146.2,547.5 141.2,540 141.2,531.2 135,522.5 136.2,516.2 141.2,514.5 143.8,520 151.2,515.5 150,506.2 145,500 140,493.8 140,486.2 145.5,479.5 132.5,474.5 128.8,457.5 112.5,456.2 102.5,451.2"/>
<polygon points="908.3,664.7 913.3,666.7 918,670.8 915.8,676.7 915,683.3 912.5,691.7 910,701.7 906.7,710 901.7,718.3 899.2,725 898.3,731.7 895.8,734.2 894.2,730 893.3,725 888.3,722.5 885,716.7 882.5,708.3 883.3,698.3 888.3,688.3 895,676.7 901.7,669.2" fill="#FFFFE5"/>
<polyline points="932,679.2 926.7,702.5" stroke-width="1.8"/>
<polyline points="916.7,738.3 902.5,756.7" stroke-width="1"/>
<polygon points="695,772.5 703.3,771.7 715,770 720,772.5 721.3,778.3 719.2,784.2 715,790 711.7,797.5 706.7,802.5 700,806.7 695,811.3 690,809.2 683.3,806.7 678.3,804.2 677.5,796.7 677.5,787.5 682.5,783.3 686.7,776.7 690,774.2" fill="#FEE79B"/>
<polyline points="882.5,792 872.5,813.8" stroke-width="0.8"/>
<polyline points="865,853 865,875.5" stroke-width="1.4"/>
<polyline points="863.8,936.2 860,950 855.5,959.5" stroke-width="0.8"/>
<polyline points="815,1018 801.2,1035.5" stroke-width="0.8"/>
<polyline points="688.8,850 696.2,860 699.5,872.5" stroke-width="0.8"/>
<polyline points="708,931.2 707.5,942.5 703.2,952.5" stroke-width="1.2"/>
<polyline points="670.5,1037 670,1050 672,1059.5" stroke-width="1"/>
<polyline points="748,1059.5 750,1072.5" stroke-width="1.2"/>
<polyline points="733.8,1111.8 753.8,1105.5" stroke-width="0.9"/>
<polyline points="692.5,1031.2 696.2,1028.8 701.2,1027.5" stroke-width="1"/>
<circle cx="729.5" cy="832.5" r="0.8" fill="#555" stroke="none"/>
<circle cx="743" cy="835" r="0.8" fill="#555" stroke="none"/>
<circle cx="733" cy="843.8" r="0.8" fill="#555" stroke="none"/>
<circle cx="730.5" cy="846.2" r="0.8" fill="#555" stroke="none"/>
<circle cx="739.5" cy="847.5" r="0.8" fill="#555" stroke="none"/>
<circle cx="747.5" cy="847.5" r="0.8" fill="#555" stroke="none"/>
<circle cx="732" cy="850.5" r="0.8" fill="#555" stroke="none"/>
<circle cx="734.5" cy="853.8" r="0.8" fill="#555" stroke="none"/>
<circle cx="748" cy="853.8" r="0.8" fill="#555" stroke="none"/>
<circle cx="742" cy="860.5" r="0.8" fill="#555" stroke="none"/>
<circle cx="746.2" cy="845" r="0.8" fill="#555" stroke="none"/>
<circle cx="733.8" cy="848.8" r="0.8" fill="#555" stroke="none"/>
<circle cx="777" cy="854.5" r="0.5" fill="#555" stroke="none"/>
<circle cx="782.5" cy="853.5" r="0.5" fill="#555" stroke="none"/>
<circle cx="788" cy="851" r="0.5" fill="#555" stroke="none"/>
<circle cx="790" cy="854.5" r="0.5" fill="#555" stroke="none"/>
<circle cx="784.5" cy="862" r="0.5" fill="#555" stroke="none"/>
<circle cx="772" cy="865" r="0.5" fill="#555" stroke="none"/>
<circle cx="756.2" cy="783.2" r="0.9" fill="#555" stroke="none"/>
<circle cx="822.5" cy="847.5" r="0.9" fill="#555" stroke="none"/>
<circle cx="799.2" cy="896.8" r="0.9" fill="#555" stroke="none"/>
<circle cx="825" cy="760" r="0.9" fill="#555" stroke="none"/>
<circle cx="785.8" cy="947" r="0.7" fill="#555" stroke="none"/>
<circle cx="787.5" cy="955" r="0.7" fill="#555" stroke="none"/>
<circle cx="790.8" cy="956.2" r="0.7" fill="#555" stroke="none"/>
<circle cx="783.8" cy="960" r="0.7" fill="#555" stroke="none"/>
<circle cx="775.8" cy="959.2" r="0.7" fill="#555" stroke="none"/>
<circle cx="823.8" cy="947" r="0.7" fill="#555" stroke="none"/>
<circle cx="833" cy="956.2" r="0.7" fill="#555" stroke="none"/>
<circle cx="840" cy="956.2" r="0.7" fill="#555" stroke="none"/>
<circle cx="832.5" cy="963" r="0.7" fill="#555" stroke="none"/>
<circle cx="824.5" cy="967" r="0.7" fill="#555" stroke="none"/>
<circle cx="820" cy="969.5" r="0.7" fill="#555" stroke="none"/>
<circle cx="818.8" cy="971.2" r="0.7" fill="#555" stroke="none"/>
<circle cx="806.2" cy="967.5" r="0.7" fill="#555" stroke="none"/>
<circle cx="811.2" cy="975" r="0.7" fill="#555" stroke="none"/>
<circle cx="797.5" cy="973.8" r="0.7" fill="#555" stroke="none"/>
<circle cx="787.5" cy="970.8" r="0.7" fill="#555" stroke="none"/>
<circle cx="778.8" cy="972" r="0.7" fill="#555" stroke="none"/>
<circle cx="771.8" cy="975.5" r="0.7" fill="#555" stroke="none"/>
<circle cx="767" cy="972.5" r="0.7" fill="#555" stroke="none"/>
<circle cx="786.2" cy="978" r="0.7" fill="#555" stroke="none"/>
<circle cx="802" cy="979.5" r="0.7" fill="#555" stroke="none"/>
<circle cx="808" cy="982" r="0.7" fill="#555" stroke="none"/>
<circle cx="819.5" cy="982" r="0.7" fill="#555" stroke="none"/>
<circle cx="812.5" cy="986.2" r="0.7" fill="#555" stroke="none"/>
<circle cx="786.2" cy="982.5" r="0.7" fill="#555" stroke="none"/>
<circle cx="800" cy="990" r="0.7" fill="#555" stroke="none"/>
<circle cx="810" cy="992" r="0.7" fill="#555" stroke="none"/>
<circle cx="819.5" cy="995" r="0.7" fill="#555" stroke="none"/>
<circle cx="823.8" cy="996.8" r="0.7" fill="#555" stroke="none"/>
<circle cx="815" cy="1000" r="0.7" fill="#555" stroke="none"/>
<circle cx="777.5" cy="989.5" r="0.7" fill="#555" stroke="none"/>
<circle cx="768.2" cy="993.8" r="0.7" fill="#555" stroke="none"/>
<circle cx="768.8" cy="997.5" r="0.7" fill="#555" stroke="none"/>
<circle cx="773.8" cy="1001.2" r="0.7" fill="#555" stroke="none"/>
<circle cx="777.5" cy="1002.5" r="0.7" fill="#555" stroke="none"/>
<circle cx="785.8" cy="1000.5" r="0.7" fill="#555" stroke="none"/>
<circle cx="748" cy="987" r="0.7" fill="#555" stroke="none"/>
<circle cx="742.5" cy="1000.5" r="0.7" fill="#555" stroke="none"/>
<circle cx="747.5" cy="1000.5" r="0.7" fill="#555" stroke="none"/>
<circle cx="753.8" cy="999.5" r="0.7" fill="#555" stroke="none"/>
<circle cx="733" cy="1005" r="0.7" fill="#555" stroke="none"/>
<circle cx="729.2" cy="1007.5" r="0.7" fill="#555" stroke="none"/>
<circle cx="755.5" cy="1009.2" r="0.7" fill="#555" stroke="none"/>
<circle cx="762.5" cy="1013.8" r="0.7" fill="#555" stroke="none"/>
<circle cx="761.2" cy="1015.5" r="0.7" fill="#555" stroke="none"/>
<circle cx="796.2" cy="1010" r="0.7" fill="#555" stroke="none"/>
<circle cx="802" cy="1008" r="0.7" fill="#555" stroke="none"/>
<circle cx="737.5" cy="1017" r="0.7" fill="#555" stroke="none"/>
<circle cx="732.5" cy="1021.2" r="0.7" fill="#555" stroke="none"/>
<circle cx="731.2" cy="1023.8" r="0.7" fill="#555" stroke="none"/>
<circle cx="730.5" cy="1027" r="0.7" fill="#555" stroke="none"/>
<circle cx="711.8" cy="1022" r="0.7" fill="#555" stroke="none"/>
<circle cx="755" cy="1021.2" r="0.7" fill="#555" stroke="none"/>
<circle cx="772.5" cy="1018" r="0.7" fill="#555" stroke="none"/>
<circle cx="790" cy="1017.5" r="0.7" fill="#555" stroke="none"/>
<circle cx="771.2" cy="1031.2" r="0.7" fill="#555" stroke="none"/>
<circle cx="791.2" cy="1028.2" r="0.7" fill="#555" stroke="none"/>
<circle cx="789.2" cy="1034.2" r="0.7" fill="#555" stroke="none"/>
<circle cx="766.8" cy="1039.5" r="0.7" fill="#555" stroke="none"/>
<circle cx="760.5" cy="1053" r="0.7" fill="#555" stroke="none"/>
<circle cx="750" cy="1078" r="0.7" fill="#555" stroke="none"/>
<circle cx="755" cy="1078.8" r="0.7" fill="#555" stroke="none"/>
<circle cx="740" cy="1102" r="0.7" fill="#555" stroke="none"/>
<circle cx="742.5" cy="1101.2" r="0.7" fill="#555" stroke="none"/>
<circle cx="786.2" cy="1015" r="0.7" fill="#555" stroke="none"/>
<circle cx="783.8" cy="1014.5" r="0.7" fill="#555" stroke="none"/>
<polygon points="770,1025.5 775,1022.5 780,1018.8 784.5,1018 783,1022 778.8,1025.5 773.8,1027.5" fill="#FEE79B"/>
<polygon points="770.2,789.5 771.2,788.5 772.5,789.5 771.2,790.5" fill="#FEE79B"/>
<polygon points="841.5,960.8 842.5,959.8 843.5,960.8 842.5,961.8" fill="#FEE79B"/>
<polygon points="840.8,871.8 842,870.2 843.2,871.8 842,873.2" fill="none"/>
<polygon points="711,1015.5 712.5,1014 714,1015.5 712.5,1017" fill="#FEE79B"/>
<polygon points="701.5,1020.5 702.5,1019.2 703.8,1020.5 702.5,1021.8" fill="#FEE79B"/>
<circle cx="874.2" cy="699.2" r="0.9" fill="#555" stroke="none"/>
<circle cx="875" cy="700.3" r="0.9" fill="#555" stroke="none"/>
<circle cx="943.3" cy="655.8" r="0.9" fill="#555" stroke="none"/>
<circle cx="948.3" cy="651.7" r="0.9" fill="#555" stroke="none"/>
<circle cx="963.3" cy="651.7" r="0.9" fill="#555" stroke="none"/>
<circle cx="919.2" cy="660" r="0.9" fill="#555" stroke="none"/>
<circle cx="908.3" cy="718.3" r="0.9" fill="#555" stroke="none"/>
<circle cx="910" cy="730.8" r="0.9" fill="#555" stroke="none"/>
<circle cx="810" cy="752.5" r="0.9" fill="#555" stroke="none"/>
<circle cx="825" cy="758.3" r="0.9" fill="#555" stroke="none"/>
<circle cx="871.7" cy="707.5" r="0.9" fill="#555" stroke="none"/>
<circle cx="873.3" cy="705" r="0.9" fill="#555" stroke="none"/>
<circle cx="915.8" cy="566.7" r="1" fill="#555" stroke="none"/>
<circle cx="918.3" cy="565" r="1" fill="#555" stroke="none"/>
<circle cx="920.8" cy="567.5" r="1" fill="#555" stroke="none"/>
<circle cx="922.5" cy="570" r="1" fill="#555" stroke="none"/>
<circle cx="920" cy="571.7" r="1" fill="#555" stroke="none"/>
<circle cx="917.5" cy="569.2" r="1" fill="#555" stroke="none"/>
<circle cx="923.3" cy="565.8" r="1" fill="#555" stroke="none"/>
<circle cx="921.7" cy="563.3" r="1" fill="#555" stroke="none"/>
<circle cx="919.2" cy="574.2" r="1" fill="#555" stroke="none"/>
<circle cx="924.2" cy="572.5" r="1" fill="#555" stroke="none"/>
<circle cx="930.8" cy="565.8" r="1" fill="#555" stroke="none"/>
<circle cx="915.8" cy="600" r="1" fill="#555" stroke="none"/>
<circle cx="902.5" cy="610" r="1" fill="#555" stroke="none"/>
<circle cx="903.3" cy="612.5" r="1" fill="#555" stroke="none"/>
<circle cx="900.8" cy="620.8" r="1" fill="#555" stroke="none"/>
<circle cx="886.7" cy="630.8" r="1" fill="#555" stroke="none"/>
<circle cx="880" cy="636.7" r="1" fill="#555" stroke="none"/>
<circle cx="877.5" cy="637.5" r="1" fill="#555" stroke="none"/>
<circle cx="880.8" cy="638.3" r="1" fill="#555" stroke="none"/>
<circle cx="875.8" cy="658.3" r="1" fill="#555" stroke="none"/>
<circle cx="878.3" cy="660" r="1" fill="#555" stroke="none"/>
<circle cx="874.2" cy="661.7" r="1" fill="#555" stroke="none"/>
<circle cx="866.7" cy="666.7" r="1" fill="#555" stroke="none"/>
<circle cx="863.3" cy="668.3" r="1" fill="#555" stroke="none"/>
<circle cx="865.8" cy="669.2" r="1" fill="#555" stroke="none"/>
<circle cx="848.3" cy="681.7" r="1" fill="#555" stroke="none"/>
<circle cx="851.7" cy="680.8" r="1" fill="#555" stroke="none"/>
<circle cx="854.2" cy="680" r="1" fill="#555" stroke="none"/>
<circle cx="830" cy="701.7" r="1" fill="#555" stroke="none"/>
<circle cx="827.5" cy="702.5" r="1" fill="#555" stroke="none"/>
<circle cx="685.8" cy="752" r="0.8" fill="#555" stroke="none"/>
<circle cx="723.3" cy="774.2" r="0.8" fill="#555" stroke="none"/>
<circle cx="756.3" cy="783" r="0.8" fill="#555" stroke="none"/>
<circle cx="729.2" cy="832.5" r="0.8" fill="#555" stroke="none"/>
<circle cx="743.3" cy="835" r="0.8" fill="#555" stroke="none"/>
<circle cx="774.2" cy="724.2" r="0.8" fill="#555" stroke="none"/>
<circle cx="776.7" cy="722.5" r="0.8" fill="#555" stroke="none"/>
<circle cx="778.3" cy="725" r="0.8" fill="#555" stroke="none"/>
<circle cx="750" cy="738.3" r="0.8" fill="#555" stroke="none"/>
<circle cx="752.5" cy="739.2" r="0.8" fill="#555" stroke="none"/>
<polyline points="875,637 880,636.3 884.2,637 883.3,639.2 880,638.3" stroke-width="2.2"/>
<polyline points="870.8,661.7 874.2,659.2 876.7,660.8 878.3,658.3" stroke-width="1.8"/>
<polyline points="862.5,669.2 865,666.7 866.7,668.3" stroke-width="1.8"/>
<polyline points="847.5,682.5 850.8,680.3 854.2,681.3" stroke-width="1.6"/>
<polyline points="915.8,565.8 919.2,564.2 921.7,566.7 925,569.2 922.5,571.7 919.2,570 920.8,574.2 924.2,573.3" stroke-width="2.6"/>
<polyline points="900,610 903.3,608.3 902.5,612.5" stroke-width="1.6"/>
<polyline points="773.3,722.5 776.7,720.8 780,722.5 778.3,725.8 775,726.7" stroke-width="1.6"/>
<polyline points="747.5,738.3 750.8,737.5 752.5,740" stroke-width="1.6"/></g>
<g shape-rendering="crispEdges">
<rect x="24" y="24" width="1152" height="1" fill="#000"/>
<rect x="24" y="24" width="1" height="1152" fill="#000"/>
<rect x="1174" y="24" width="2" height="1152" fill="#000"/>
<rect x="24" y="1174" width="1152" height="2" fill="#000"/>
</g>
<text x="49 101 153 205 219 259 276 308 337 366 395 424 453 467 484 536 588 640" y="108.3 108.3 108.3 107 107 107 107 107 107 107 107 107 107 107 108.3 108.3 108.3 107" font-size="52">父系： O-Z23789 (含下游)</text>
<text x="54.8 90.8 129 165.8" y="786.8" font-size="36">相对占比</text>
<g shape-rendering="crispEdges">
<rect x="58" y="805.5" width="33" height="34" fill="#FFFFE5"/>
<rect x="58" y="839" width="33" height="34" fill="#FFF8C1"/>
<rect x="58" y="872.5" width="33" height="34" fill="#FEE79B"/>
<rect x="58" y="906" width="33" height="34" fill="#FECE65"/>
<rect x="58" y="939.5" width="33" height="34" fill="#FEAC3A"/>
<rect x="58" y="973" width="33" height="34" fill="#F68720"/>
<rect x="58" y="1006.5" width="33" height="34" fill="#E1640E"/>
<rect x="58" y="1040" width="33" height="34" fill="#C14702"/>
<rect x="58" y="1073.5" width="33" height="34" fill="#933204"/>
<rect x="58" y="1107" width="33" height="33.5" fill="#662506"/>
</g>
<g font-size="28">
<text x="99.6 115.6 123.6 139.6 155.6 180.6 188.6 197.6 205.6 221.6 229.6 245.6 261.6" y="834">0.09% - 0.54%</text>
<text x="99.6 115.6 123.6 139.6 155.6 180.6 188.6 197.6 205.6 221.6 229.6 245.6 261.6" y="867.5">0.54% - 1.13%</text>
<text x="99.6 115.6 123.6 139.6 155.6 180.6 188.6 197.6 205.6 221.6 229.6 245.6 261.6" y="901">1.13% - 1.88%</text>
<text x="99.6 115.6 123.6 139.6 155.6 180.6 188.6 197.6 205.6 221.6 229.6 245.6 261.6" y="934.5">1.88% - 3.12%</text>
<text x="99.6 115.6 123.6 139.6 155.6 180.6 188.6 197.6 205.6 221.6 229.6 245.6 261.6" y="968">3.12% - 5.00%</text>
<text x="99.6 115.6 123.6 139.6 155.6 180.6 188.6 197.6 205.6 221.6 229.6 245.6 261.6" y="1001.5">5.00% - 6.54%</text>
<text x="99.6 115.6 123.6 139.6 155.6 180.6 188.6 197.6 205.6 221.6 229.6 245.6 261.6" y="1035">6.54% - 8.33%</text>
<text x="99.6 115.6 123.6 139.6 155.6 180.6 188.6 197.6 205.6 221.6 237.6 245.6 261.6 277.6" y="1068.5">8.33% - 12.90%</text>
<text x="99.6 115.6 131.6 139.6 155.6 171.6 196.6 204.6 213.6 221.6 237.6 253.6 261.6 277.6 293.6" y="1102">12.90% - 20.00%</text>
<text x="99.6 115.6 131.6 139.6 155.6 171.6 196.6 204.6 213.6 221.6 237.6 253.6 261.6 277.6 293.6" y="1135.5">20.00% - 27.43%</text>
</g>
<text x="945 973 1001 1009 1031 1047 1063 1091 1119" y="1137.7 1137.7 1136.5 1136.5 1136.5 1136.5 1137.7 1137.7 1137.7" font-size="28">作者:O1a溯源群</text>
</svg>
</body>
</html>
